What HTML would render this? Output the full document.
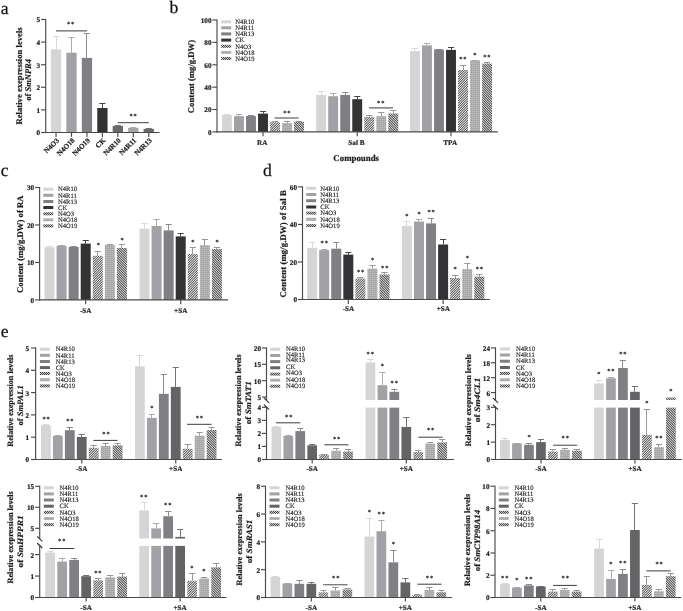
<!DOCTYPE html>
<html lang="en"><head><meta charset="utf-8"><title>Figure</title>
<style>html,body{margin:0;padding:0;background:#fff}svg{display:block;will-change:transform}text{font-family:"Liberation Serif",serif;stroke:#222;stroke-width:.2px;text-rendering:geometricPrecision}.lg{stroke-width:.13px}.pl{stroke-width:.25px}.st{stroke:#222;stroke-width:.15px}</style></head><body>
<svg width="683" height="611" viewBox="0 0 683 611">
<defs>
<pattern id="h3" width="12" height="12" patternUnits="userSpaceOnUse"><rect x="0" y="0" width="1" height="1" fill="#e4e4e4"/><rect x="1" y="0" width="1" height="1" fill="#656565"/><rect x="2" y="0" width="1" height="1" fill="#c2c2c2"/><rect x="3" y="0" width="1" height="1" fill="#a0a0a0"/><rect x="4" y="0" width="1" height="1" fill="#7e7e7e"/><rect x="5" y="0" width="1" height="1" fill="#dbdbdb"/><rect x="6" y="0" width="1" height="1" fill="#5c5c5c"/><rect x="7" y="0" width="1" height="1" fill="#dbdbdb"/><rect x="8" y="0" width="1" height="1" fill="#7e7e7e"/><rect x="9" y="0" width="1" height="1" fill="#a0a0a0"/><rect x="10" y="0" width="1" height="1" fill="#c2c2c2"/><rect x="11" y="0" width="1" height="1" fill="#656565"/><rect x="0" y="1" width="1" height="1" fill="#656565"/><rect x="1" y="1" width="1" height="1" fill="#c2c2c2"/><rect x="2" y="1" width="1" height="1" fill="#a0a0a0"/><rect x="3" y="1" width="1" height="1" fill="#7e7e7e"/><rect x="4" y="1" width="1" height="1" fill="#dbdbdb"/><rect x="5" y="1" width="1" height="1" fill="#5c5c5c"/><rect x="6" y="1" width="1" height="1" fill="#dbdbdb"/><rect x="7" y="1" width="1" height="1" fill="#7e7e7e"/><rect x="8" y="1" width="1" height="1" fill="#a0a0a0"/><rect x="9" y="1" width="1" height="1" fill="#c2c2c2"/><rect x="10" y="1" width="1" height="1" fill="#656565"/><rect x="11" y="1" width="1" height="1" fill="#e4e4e4"/><rect x="0" y="2" width="1" height="1" fill="#c2c2c2"/><rect x="1" y="2" width="1" height="1" fill="#a0a0a0"/><rect x="2" y="2" width="1" height="1" fill="#7e7e7e"/><rect x="3" y="2" width="1" height="1" fill="#dbdbdb"/><rect x="4" y="2" width="1" height="1" fill="#5c5c5c"/><rect x="5" y="2" width="1" height="1" fill="#dbdbdb"/><rect x="6" y="2" width="1" height="1" fill="#7e7e7e"/><rect x="7" y="2" width="1" height="1" fill="#a0a0a0"/><rect x="8" y="2" width="1" height="1" fill="#c2c2c2"/><rect x="9" y="2" width="1" height="1" fill="#656565"/><rect x="10" y="2" width="1" height="1" fill="#e4e4e4"/><rect x="11" y="2" width="1" height="1" fill="#656565"/><rect x="0" y="3" width="1" height="1" fill="#a0a0a0"/><rect x="1" y="3" width="1" height="1" fill="#7e7e7e"/><rect x="2" y="3" width="1" height="1" fill="#dbdbdb"/><rect x="3" y="3" width="1" height="1" fill="#5c5c5c"/><rect x="4" y="3" width="1" height="1" fill="#dbdbdb"/><rect x="5" y="3" width="1" height="1" fill="#7e7e7e"/><rect x="6" y="3" width="1" height="1" fill="#a0a0a0"/><rect x="7" y="3" width="1" height="1" fill="#c2c2c2"/><rect x="8" y="3" width="1" height="1" fill="#656565"/><rect x="9" y="3" width="1" height="1" fill="#e4e4e4"/><rect x="10" y="3" width="1" height="1" fill="#656565"/><rect x="11" y="3" width="1" height="1" fill="#c2c2c2"/><rect x="0" y="4" width="1" height="1" fill="#7e7e7e"/><rect x="1" y="4" width="1" height="1" fill="#dbdbdb"/><rect x="2" y="4" width="1" height="1" fill="#5c5c5c"/><rect x="3" y="4" width="1" height="1" fill="#dbdbdb"/><rect x="4" y="4" width="1" height="1" fill="#7e7e7e"/><rect x="5" y="4" width="1" height="1" fill="#a0a0a0"/><rect x="6" y="4" width="1" height="1" fill="#c2c2c2"/><rect x="7" y="4" width="1" height="1" fill="#656565"/><rect x="8" y="4" width="1" height="1" fill="#e4e4e4"/><rect x="9" y="4" width="1" height="1" fill="#656565"/><rect x="10" y="4" width="1" height="1" fill="#c2c2c2"/><rect x="11" y="4" width="1" height="1" fill="#a0a0a0"/><rect x="0" y="5" width="1" height="1" fill="#dbdbdb"/><rect x="1" y="5" width="1" height="1" fill="#5c5c5c"/><rect x="2" y="5" width="1" height="1" fill="#dbdbdb"/><rect x="3" y="5" width="1" height="1" fill="#7e7e7e"/><rect x="4" y="5" width="1" height="1" fill="#a0a0a0"/><rect x="5" y="5" width="1" height="1" fill="#c2c2c2"/><rect x="6" y="5" width="1" height="1" fill="#656565"/><rect x="7" y="5" width="1" height="1" fill="#e4e4e4"/><rect x="8" y="5" width="1" height="1" fill="#656565"/><rect x="9" y="5" width="1" height="1" fill="#c2c2c2"/><rect x="10" y="5" width="1" height="1" fill="#a0a0a0"/><rect x="11" y="5" width="1" height="1" fill="#7e7e7e"/><rect x="0" y="6" width="1" height="1" fill="#5c5c5c"/><rect x="1" y="6" width="1" height="1" fill="#dbdbdb"/><rect x="2" y="6" width="1" height="1" fill="#7e7e7e"/><rect x="3" y="6" width="1" height="1" fill="#a0a0a0"/><rect x="4" y="6" width="1" height="1" fill="#c2c2c2"/><rect x="5" y="6" width="1" height="1" fill="#656565"/><rect x="6" y="6" width="1" height="1" fill="#e4e4e4"/><rect x="7" y="6" width="1" height="1" fill="#656565"/><rect x="8" y="6" width="1" height="1" fill="#c2c2c2"/><rect x="9" y="6" width="1" height="1" fill="#a0a0a0"/><rect x="10" y="6" width="1" height="1" fill="#7e7e7e"/><rect x="11" y="6" width="1" height="1" fill="#dbdbdb"/><rect x="0" y="7" width="1" height="1" fill="#dbdbdb"/><rect x="1" y="7" width="1" height="1" fill="#7e7e7e"/><rect x="2" y="7" width="1" height="1" fill="#a0a0a0"/><rect x="3" y="7" width="1" height="1" fill="#c2c2c2"/><rect x="4" y="7" width="1" height="1" fill="#656565"/><rect x="5" y="7" width="1" height="1" fill="#e4e4e4"/><rect x="6" y="7" width="1" height="1" fill="#656565"/><rect x="7" y="7" width="1" height="1" fill="#c2c2c2"/><rect x="8" y="7" width="1" height="1" fill="#a0a0a0"/><rect x="9" y="7" width="1" height="1" fill="#7e7e7e"/><rect x="10" y="7" width="1" height="1" fill="#dbdbdb"/><rect x="11" y="7" width="1" height="1" fill="#5c5c5c"/><rect x="0" y="8" width="1" height="1" fill="#7e7e7e"/><rect x="1" y="8" width="1" height="1" fill="#a0a0a0"/><rect x="2" y="8" width="1" height="1" fill="#c2c2c2"/><rect x="3" y="8" width="1" height="1" fill="#656565"/><rect x="4" y="8" width="1" height="1" fill="#e4e4e4"/><rect x="5" y="8" width="1" height="1" fill="#656565"/><rect x="6" y="8" width="1" height="1" fill="#c2c2c2"/><rect x="7" y="8" width="1" height="1" fill="#a0a0a0"/><rect x="8" y="8" width="1" height="1" fill="#7e7e7e"/><rect x="9" y="8" width="1" height="1" fill="#dbdbdb"/><rect x="10" y="8" width="1" height="1" fill="#5c5c5c"/><rect x="11" y="8" width="1" height="1" fill="#dbdbdb"/><rect x="0" y="9" width="1" height="1" fill="#a0a0a0"/><rect x="1" y="9" width="1" height="1" fill="#c2c2c2"/><rect x="2" y="9" width="1" height="1" fill="#656565"/><rect x="3" y="9" width="1" height="1" fill="#e4e4e4"/><rect x="4" y="9" width="1" height="1" fill="#656565"/><rect x="5" y="9" width="1" height="1" fill="#c2c2c2"/><rect x="6" y="9" width="1" height="1" fill="#a0a0a0"/><rect x="7" y="9" width="1" height="1" fill="#7e7e7e"/><rect x="8" y="9" width="1" height="1" fill="#dbdbdb"/><rect x="9" y="9" width="1" height="1" fill="#5c5c5c"/><rect x="10" y="9" width="1" height="1" fill="#dbdbdb"/><rect x="11" y="9" width="1" height="1" fill="#7e7e7e"/><rect x="0" y="10" width="1" height="1" fill="#c2c2c2"/><rect x="1" y="10" width="1" height="1" fill="#656565"/><rect x="2" y="10" width="1" height="1" fill="#e4e4e4"/><rect x="3" y="10" width="1" height="1" fill="#656565"/><rect x="4" y="10" width="1" height="1" fill="#c2c2c2"/><rect x="5" y="10" width="1" height="1" fill="#a0a0a0"/><rect x="6" y="10" width="1" height="1" fill="#7e7e7e"/><rect x="7" y="10" width="1" height="1" fill="#dbdbdb"/><rect x="8" y="10" width="1" height="1" fill="#5c5c5c"/><rect x="9" y="10" width="1" height="1" fill="#dbdbdb"/><rect x="10" y="10" width="1" height="1" fill="#7e7e7e"/><rect x="11" y="10" width="1" height="1" fill="#a0a0a0"/><rect x="0" y="11" width="1" height="1" fill="#656565"/><rect x="1" y="11" width="1" height="1" fill="#e4e4e4"/><rect x="2" y="11" width="1" height="1" fill="#656565"/><rect x="3" y="11" width="1" height="1" fill="#c2c2c2"/><rect x="4" y="11" width="1" height="1" fill="#a0a0a0"/><rect x="5" y="11" width="1" height="1" fill="#7e7e7e"/><rect x="6" y="11" width="1" height="1" fill="#dbdbdb"/><rect x="7" y="11" width="1" height="1" fill="#5c5c5c"/><rect x="8" y="11" width="1" height="1" fill="#dbdbdb"/><rect x="9" y="11" width="1" height="1" fill="#7e7e7e"/><rect x="10" y="11" width="1" height="1" fill="#a0a0a0"/><rect x="11" y="11" width="1" height="1" fill="#c2c2c2"/></pattern>
<pattern id="h19" width="12" height="12" patternUnits="userSpaceOnUse"><rect x="0" y="0" width="1" height="1" fill="#d4d4d4"/><rect x="1" y="0" width="1" height="1" fill="#595959"/><rect x="2" y="0" width="1" height="1" fill="#b3b3b3"/><rect x="3" y="0" width="1" height="1" fill="#929292"/><rect x="4" y="0" width="1" height="1" fill="#717171"/><rect x="5" y="0" width="1" height="1" fill="#cbcbcb"/><rect x="6" y="0" width="1" height="1" fill="#505050"/><rect x="7" y="0" width="1" height="1" fill="#cbcbcb"/><rect x="8" y="0" width="1" height="1" fill="#717171"/><rect x="9" y="0" width="1" height="1" fill="#929292"/><rect x="10" y="0" width="1" height="1" fill="#b3b3b3"/><rect x="11" y="0" width="1" height="1" fill="#595959"/><rect x="0" y="1" width="1" height="1" fill="#595959"/><rect x="1" y="1" width="1" height="1" fill="#d4d4d4"/><rect x="2" y="1" width="1" height="1" fill="#595959"/><rect x="3" y="1" width="1" height="1" fill="#b3b3b3"/><rect x="4" y="1" width="1" height="1" fill="#929292"/><rect x="5" y="1" width="1" height="1" fill="#717171"/><rect x="6" y="1" width="1" height="1" fill="#cbcbcb"/><rect x="7" y="1" width="1" height="1" fill="#505050"/><rect x="8" y="1" width="1" height="1" fill="#cbcbcb"/><rect x="9" y="1" width="1" height="1" fill="#717171"/><rect x="10" y="1" width="1" height="1" fill="#929292"/><rect x="11" y="1" width="1" height="1" fill="#b3b3b3"/><rect x="0" y="2" width="1" height="1" fill="#b3b3b3"/><rect x="1" y="2" width="1" height="1" fill="#595959"/><rect x="2" y="2" width="1" height="1" fill="#d4d4d4"/><rect x="3" y="2" width="1" height="1" fill="#595959"/><rect x="4" y="2" width="1" height="1" fill="#b3b3b3"/><rect x="5" y="2" width="1" height="1" fill="#929292"/><rect x="6" y="2" width="1" height="1" fill="#717171"/><rect x="7" y="2" width="1" height="1" fill="#cbcbcb"/><rect x="8" y="2" width="1" height="1" fill="#505050"/><rect x="9" y="2" width="1" height="1" fill="#cbcbcb"/><rect x="10" y="2" width="1" height="1" fill="#717171"/><rect x="11" y="2" width="1" height="1" fill="#929292"/><rect x="0" y="3" width="1" height="1" fill="#929292"/><rect x="1" y="3" width="1" height="1" fill="#b3b3b3"/><rect x="2" y="3" width="1" height="1" fill="#595959"/><rect x="3" y="3" width="1" height="1" fill="#d4d4d4"/><rect x="4" y="3" width="1" height="1" fill="#595959"/><rect x="5" y="3" width="1" height="1" fill="#b3b3b3"/><rect x="6" y="3" width="1" height="1" fill="#929292"/><rect x="7" y="3" width="1" height="1" fill="#717171"/><rect x="8" y="3" width="1" height="1" fill="#cbcbcb"/><rect x="9" y="3" width="1" height="1" fill="#505050"/><rect x="10" y="3" width="1" height="1" fill="#cbcbcb"/><rect x="11" y="3" width="1" height="1" fill="#717171"/><rect x="0" y="4" width="1" height="1" fill="#717171"/><rect x="1" y="4" width="1" height="1" fill="#929292"/><rect x="2" y="4" width="1" height="1" fill="#b3b3b3"/><rect x="3" y="4" width="1" height="1" fill="#595959"/><rect x="4" y="4" width="1" height="1" fill="#d4d4d4"/><rect x="5" y="4" width="1" height="1" fill="#595959"/><rect x="6" y="4" width="1" height="1" fill="#b3b3b3"/><rect x="7" y="4" width="1" height="1" fill="#929292"/><rect x="8" y="4" width="1" height="1" fill="#717171"/><rect x="9" y="4" width="1" height="1" fill="#cbcbcb"/><rect x="10" y="4" width="1" height="1" fill="#505050"/><rect x="11" y="4" width="1" height="1" fill="#cbcbcb"/><rect x="0" y="5" width="1" height="1" fill="#cbcbcb"/><rect x="1" y="5" width="1" height="1" fill="#717171"/><rect x="2" y="5" width="1" height="1" fill="#929292"/><rect x="3" y="5" width="1" height="1" fill="#b3b3b3"/><rect x="4" y="5" width="1" height="1" fill="#595959"/><rect x="5" y="5" width="1" height="1" fill="#d4d4d4"/><rect x="6" y="5" width="1" height="1" fill="#595959"/><rect x="7" y="5" width="1" height="1" fill="#b3b3b3"/><rect x="8" y="5" width="1" height="1" fill="#929292"/><rect x="9" y="5" width="1" height="1" fill="#717171"/><rect x="10" y="5" width="1" height="1" fill="#cbcbcb"/><rect x="11" y="5" width="1" height="1" fill="#505050"/><rect x="0" y="6" width="1" height="1" fill="#505050"/><rect x="1" y="6" width="1" height="1" fill="#cbcbcb"/><rect x="2" y="6" width="1" height="1" fill="#717171"/><rect x="3" y="6" width="1" height="1" fill="#929292"/><rect x="4" y="6" width="1" height="1" fill="#b3b3b3"/><rect x="5" y="6" width="1" height="1" fill="#595959"/><rect x="6" y="6" width="1" height="1" fill="#d4d4d4"/><rect x="7" y="6" width="1" height="1" fill="#595959"/><rect x="8" y="6" width="1" height="1" fill="#b3b3b3"/><rect x="9" y="6" width="1" height="1" fill="#929292"/><rect x="10" y="6" width="1" height="1" fill="#717171"/><rect x="11" y="6" width="1" height="1" fill="#cbcbcb"/><rect x="0" y="7" width="1" height="1" fill="#cbcbcb"/><rect x="1" y="7" width="1" height="1" fill="#505050"/><rect x="2" y="7" width="1" height="1" fill="#cbcbcb"/><rect x="3" y="7" width="1" height="1" fill="#717171"/><rect x="4" y="7" width="1" height="1" fill="#929292"/><rect x="5" y="7" width="1" height="1" fill="#b3b3b3"/><rect x="6" y="7" width="1" height="1" fill="#595959"/><rect x="7" y="7" width="1" height="1" fill="#d4d4d4"/><rect x="8" y="7" width="1" height="1" fill="#595959"/><rect x="9" y="7" width="1" height="1" fill="#b3b3b3"/><rect x="10" y="7" width="1" height="1" fill="#929292"/><rect x="11" y="7" width="1" height="1" fill="#717171"/><rect x="0" y="8" width="1" height="1" fill="#717171"/><rect x="1" y="8" width="1" height="1" fill="#cbcbcb"/><rect x="2" y="8" width="1" height="1" fill="#505050"/><rect x="3" y="8" width="1" height="1" fill="#cbcbcb"/><rect x="4" y="8" width="1" height="1" fill="#717171"/><rect x="5" y="8" width="1" height="1" fill="#929292"/><rect x="6" y="8" width="1" height="1" fill="#b3b3b3"/><rect x="7" y="8" width="1" height="1" fill="#595959"/><rect x="8" y="8" width="1" height="1" fill="#d4d4d4"/><rect x="9" y="8" width="1" height="1" fill="#595959"/><rect x="10" y="8" width="1" height="1" fill="#b3b3b3"/><rect x="11" y="8" width="1" height="1" fill="#929292"/><rect x="0" y="9" width="1" height="1" fill="#929292"/><rect x="1" y="9" width="1" height="1" fill="#717171"/><rect x="2" y="9" width="1" height="1" fill="#cbcbcb"/><rect x="3" y="9" width="1" height="1" fill="#505050"/><rect x="4" y="9" width="1" height="1" fill="#cbcbcb"/><rect x="5" y="9" width="1" height="1" fill="#717171"/><rect x="6" y="9" width="1" height="1" fill="#929292"/><rect x="7" y="9" width="1" height="1" fill="#b3b3b3"/><rect x="8" y="9" width="1" height="1" fill="#595959"/><rect x="9" y="9" width="1" height="1" fill="#d4d4d4"/><rect x="10" y="9" width="1" height="1" fill="#595959"/><rect x="11" y="9" width="1" height="1" fill="#b3b3b3"/><rect x="0" y="10" width="1" height="1" fill="#b3b3b3"/><rect x="1" y="10" width="1" height="1" fill="#929292"/><rect x="2" y="10" width="1" height="1" fill="#717171"/><rect x="3" y="10" width="1" height="1" fill="#cbcbcb"/><rect x="4" y="10" width="1" height="1" fill="#505050"/><rect x="5" y="10" width="1" height="1" fill="#cbcbcb"/><rect x="6" y="10" width="1" height="1" fill="#717171"/><rect x="7" y="10" width="1" height="1" fill="#929292"/><rect x="8" y="10" width="1" height="1" fill="#b3b3b3"/><rect x="9" y="10" width="1" height="1" fill="#595959"/><rect x="10" y="10" width="1" height="1" fill="#d4d4d4"/><rect x="11" y="10" width="1" height="1" fill="#595959"/><rect x="0" y="11" width="1" height="1" fill="#595959"/><rect x="1" y="11" width="1" height="1" fill="#b3b3b3"/><rect x="2" y="11" width="1" height="1" fill="#929292"/><rect x="3" y="11" width="1" height="1" fill="#717171"/><rect x="4" y="11" width="1" height="1" fill="#cbcbcb"/><rect x="5" y="11" width="1" height="1" fill="#505050"/><rect x="6" y="11" width="1" height="1" fill="#cbcbcb"/><rect x="7" y="11" width="1" height="1" fill="#717171"/><rect x="8" y="11" width="1" height="1" fill="#929292"/><rect x="9" y="11" width="1" height="1" fill="#b3b3b3"/><rect x="10" y="11" width="1" height="1" fill="#595959"/><rect x="11" y="11" width="1" height="1" fill="#d4d4d4"/></pattern>
<pattern id="k3" width="2" height="2" patternUnits="userSpaceOnUse"><rect x="0" y="0" width="1" height="1" fill="#444444"/><rect x="1" y="0" width="1" height="1" fill="#c8c8c8"/><rect x="0" y="1" width="1" height="1" fill="#c8c8c8"/><rect x="1" y="1" width="1" height="1" fill="#444444"/></pattern>
<pattern id="h18" width="2" height="2" patternUnits="userSpaceOnUse"><rect x="0" y="0" width="1" height="1" fill="#a8a8a8"/><rect x="1" y="0" width="1" height="1" fill="#a8a8a8"/><rect x="0" y="1" width="1" height="1" fill="#bebebe"/><rect x="1" y="1" width="1" height="1" fill="#acacac"/></pattern>
</defs>
<rect width="683" height="611" fill="#fff"/>
<text x="0.8" y="13.6" text-anchor="start" font-size="17.6" fill="#111" class="pl">a</text>
<text x="169.4" y="13.2" text-anchor="start" font-size="17.6" fill="#111" class="pl">b</text>
<text x="0.8" y="176.2" text-anchor="start" font-size="17.6" fill="#111" class="pl">c</text>
<text x="263" y="176" text-anchor="start" font-size="17.6" fill="#111" class="pl">d</text>
<text x="0.8" y="337.4" text-anchor="start" font-size="17.6" fill="#111" class="pl">e</text>
<line x1="45.7" y1="18.93" x2="45.7" y2="133.07" stroke="#4a4a4a" stroke-width="1.15"/>
<line x1="41.1" y1="132.5" x2="45.7" y2="132.5" stroke="#4a4a4a" stroke-width="1.15"/>
<text x="40.2" y="135.4" text-anchor="end" font-size="7.2" font-weight="bold" fill="#1a1a1a">0</text>
<line x1="41.1" y1="109.9" x2="45.7" y2="109.9" stroke="#4a4a4a" stroke-width="1.15"/>
<text x="40.2" y="112.8" text-anchor="end" font-size="7.2" font-weight="bold" fill="#1a1a1a">1</text>
<line x1="41.1" y1="87.3" x2="45.7" y2="87.3" stroke="#4a4a4a" stroke-width="1.15"/>
<text x="40.2" y="90.2" text-anchor="end" font-size="7.2" font-weight="bold" fill="#1a1a1a">2</text>
<line x1="41.1" y1="64.7" x2="45.7" y2="64.7" stroke="#4a4a4a" stroke-width="1.15"/>
<text x="40.2" y="67.6" text-anchor="end" font-size="7.2" font-weight="bold" fill="#1a1a1a">3</text>
<line x1="41.1" y1="42.1" x2="45.7" y2="42.1" stroke="#4a4a4a" stroke-width="1.15"/>
<text x="40.2" y="45" text-anchor="end" font-size="7.2" font-weight="bold" fill="#1a1a1a">4</text>
<line x1="41.1" y1="19.5" x2="45.7" y2="19.5" stroke="#4a4a4a" stroke-width="1.15"/>
<text x="40.2" y="22.4" text-anchor="end" font-size="7.2" font-weight="bold" fill="#1a1a1a">5</text>
<text x="21.6" y="75.9" text-anchor="middle" font-size="8.65" font-weight="bold" fill="#1a1a1a" transform="rotate(-90 21.6 75.9)">Relative exepression levels</text>
<text x="31.4" y="79.9" text-anchor="middle" font-size="8.65" font-weight="bold" fill="#1a1a1a" transform="rotate(-90 31.4 79.9)" textLength="41.8" lengthAdjust="spacingAndGlyphs">of <tspan font-style="italic">SmNPR4</tspan></text>
<line x1="56.5" y1="36.5" x2="56.5" y2="49.3" stroke="#d5d5d5" stroke-width="0.9"/>
<line x1="52.95" y1="36.5" x2="59.15" y2="36.5" stroke="#d5d5d5" stroke-width="0.9"/>
<rect x="50.9" y="49.3" width="10.3" height="83.2" fill="#d5d5d5"/>
<line x1="71.5" y1="37.5" x2="71.5" y2="52.7" stroke="#a2a2a6" stroke-width="0.9"/>
<line x1="68.4" y1="37.5" x2="74.6" y2="37.5" stroke="#a2a2a6" stroke-width="0.9"/>
<rect x="66.35" y="52.7" width="10.3" height="79.8" fill="#a2a2a6"/>
<line x1="86.5" y1="33.5" x2="86.5" y2="57.9" stroke="#808084" stroke-width="0.9"/>
<line x1="83.85" y1="33.5" x2="90.05" y2="33.5" stroke="#808084" stroke-width="0.9"/>
<rect x="81.8" y="57.9" width="10.3" height="74.6" fill="#808084"/>
<line x1="102.5" y1="103.5" x2="102.5" y2="108" stroke="#333335" stroke-width="0.9"/>
<line x1="99.3" y1="103.5" x2="105.5" y2="103.5" stroke="#333335" stroke-width="0.9"/>
<rect x="97.25" y="108" width="10.3" height="24.5" fill="#333335"/>
<line x1="117.5" y1="125.5" x2="117.5" y2="126" stroke="#69696b" stroke-width="0.9"/>
<line x1="114.75" y1="125.5" x2="120.95" y2="125.5" stroke="#69696b" stroke-width="0.9"/>
<rect x="112.7" y="126" width="10.3" height="6.5" fill="#69696b"/>
<line x1="133.5" y1="127.5" x2="133.5" y2="127.9" stroke="#a6a6a8" stroke-width="0.9"/>
<line x1="130.2" y1="127.5" x2="136.4" y2="127.5" stroke="#a6a6a8" stroke-width="0.9"/>
<rect x="128.15" y="127.9" width="10.3" height="4.6" fill="#a6a6a8"/>
<line x1="148.5" y1="128.5" x2="148.5" y2="128.9" stroke="#69696b" stroke-width="0.9"/>
<line x1="145.65" y1="128.5" x2="151.85" y2="128.5" stroke="#69696b" stroke-width="0.9"/>
<rect x="143.6" y="128.9" width="10.3" height="3.6" fill="#69696b"/>
<line x1="45.2" y1="132.5" x2="159.7" y2="132.5" stroke="#4a4a4a" stroke-width="1.15"/>
<line x1="56.05" y1="132.5" x2="56.05" y2="136.9" stroke="#4a4a4a" stroke-width="1.15"/>
<text x="59.55" y="140.9" text-anchor="end" font-size="7.2" font-weight="bold" fill="#1a1a1a" transform="rotate(-45 59.55 140.9)">N4O3</text>
<line x1="71.5" y1="132.5" x2="71.5" y2="136.9" stroke="#4a4a4a" stroke-width="1.15"/>
<text x="75" y="140.9" text-anchor="end" font-size="7.2" font-weight="bold" fill="#1a1a1a" transform="rotate(-45 75 140.9)">N4O18</text>
<line x1="86.95" y1="132.5" x2="86.95" y2="136.9" stroke="#4a4a4a" stroke-width="1.15"/>
<text x="90.45" y="140.9" text-anchor="end" font-size="7.2" font-weight="bold" fill="#1a1a1a" transform="rotate(-45 90.45 140.9)">N4O19</text>
<line x1="102.4" y1="132.5" x2="102.4" y2="136.9" stroke="#4a4a4a" stroke-width="1.15"/>
<text x="105.9" y="140.9" text-anchor="end" font-size="7.2" font-weight="bold" fill="#1a1a1a" transform="rotate(-45 105.9 140.9)">CK</text>
<line x1="117.85" y1="132.5" x2="117.85" y2="136.9" stroke="#4a4a4a" stroke-width="1.15"/>
<text x="121.35" y="140.9" text-anchor="end" font-size="7.2" font-weight="bold" fill="#1a1a1a" transform="rotate(-45 121.35 140.9)">N4R10</text>
<line x1="133.3" y1="132.5" x2="133.3" y2="136.9" stroke="#4a4a4a" stroke-width="1.15"/>
<text x="136.8" y="140.9" text-anchor="end" font-size="7.2" font-weight="bold" fill="#1a1a1a" transform="rotate(-45 136.8 140.9)">N4R11</text>
<line x1="148.75" y1="132.5" x2="148.75" y2="136.9" stroke="#4a4a4a" stroke-width="1.15"/>
<text x="152.25" y="140.9" text-anchor="end" font-size="7.2" font-weight="bold" fill="#1a1a1a" transform="rotate(-45 152.25 140.9)">N4R13</text>
<line x1="56" y1="30.9" x2="87.2" y2="30.9" stroke="#3c3c3c" stroke-width="1"/>
<text x="71.05" y="26.31" text-anchor="middle" font-size="6.4" font-weight="bold" fill="#222" letter-spacing="0.95" class="st">**</text>
<line x1="117.6" y1="122.7" x2="148.8" y2="122.7" stroke="#3c3c3c" stroke-width="1"/>
<text x="133.55" y="118.31" text-anchor="middle" font-size="6.4" font-weight="bold" fill="#222" letter-spacing="0.95" class="st">**</text>
<line x1="217" y1="19.43" x2="217" y2="132.47" stroke="#4a4a4a" stroke-width="1.15"/>
<line x1="212.4" y1="131.9" x2="217" y2="131.9" stroke="#4a4a4a" stroke-width="1.15"/>
<text x="211.5" y="134.8" text-anchor="end" font-size="7.2" font-weight="bold" fill="#1a1a1a">0</text>
<line x1="212.4" y1="109.52" x2="217" y2="109.52" stroke="#4a4a4a" stroke-width="1.15"/>
<text x="211.5" y="112.42" text-anchor="end" font-size="7.2" font-weight="bold" fill="#1a1a1a">20</text>
<line x1="212.4" y1="87.14" x2="217" y2="87.14" stroke="#4a4a4a" stroke-width="1.15"/>
<text x="211.5" y="90.04" text-anchor="end" font-size="7.2" font-weight="bold" fill="#1a1a1a">40</text>
<line x1="212.4" y1="64.76" x2="217" y2="64.76" stroke="#4a4a4a" stroke-width="1.15"/>
<text x="211.5" y="67.66" text-anchor="end" font-size="7.2" font-weight="bold" fill="#1a1a1a">60</text>
<line x1="212.4" y1="42.38" x2="217" y2="42.38" stroke="#4a4a4a" stroke-width="1.15"/>
<text x="211.5" y="45.28" text-anchor="end" font-size="7.2" font-weight="bold" fill="#1a1a1a">80</text>
<line x1="212.4" y1="20" x2="217" y2="20" stroke="#4a4a4a" stroke-width="1.15"/>
<text x="211.5" y="22.9" text-anchor="end" font-size="7.2" font-weight="bold" fill="#1a1a1a">100</text>
<text x="194.4" y="76.5" text-anchor="middle" font-size="8.7" font-weight="bold" fill="#1a1a1a" transform="rotate(-90 194.4 76.5)">Content (mg/g.DW)</text>
<rect x="221.2" y="20.3" width="10" height="3" fill="#d5d5d5"/>
<text x="235.2" y="24" text-anchor="start" font-size="6.6" fill="#1a1a1a" class="lg">N4R10</text>
<rect x="221.2" y="26.3" width="10" height="3" fill="#a2a2a6"/>
<text x="235.2" y="30" text-anchor="start" font-size="6.6" fill="#1a1a1a" class="lg">N4R11</text>
<rect x="221.2" y="32.4" width="10" height="3" fill="#808084"/>
<text x="235.2" y="36.1" text-anchor="start" font-size="6.6" fill="#1a1a1a" class="lg">N4R13</text>
<rect x="221.2" y="38.6" width="10" height="3" fill="#333335"/>
<text x="235.2" y="42.3" text-anchor="start" font-size="6.6" fill="#1a1a1a" class="lg">CK</text>
<rect x="221.2" y="44.8" width="10" height="3" fill="url(#k3)"/>
<text x="235.2" y="48.5" text-anchor="start" font-size="6.6" fill="#1a1a1a" class="lg">N4O3</text>
<rect x="221.2" y="50.9" width="10" height="3" fill="url(#h18)"/>
<text x="235.2" y="54.6" text-anchor="start" font-size="6.6" fill="#1a1a1a" class="lg">N4O18</text>
<rect x="221.2" y="57" width="10" height="3" fill="url(#k3)"/>
<text x="235.2" y="60.7" text-anchor="start" font-size="6.6" fill="#1a1a1a" class="lg">N4O19</text>
<line x1="226.5" y1="114.5" x2="226.5" y2="115" stroke="#d5d5d5" stroke-width="0.9"/>
<line x1="223.85" y1="114.5" x2="230.05" y2="114.5" stroke="#d5d5d5" stroke-width="0.9"/>
<rect x="222" y="115" width="9.9" height="16.9" fill="#d5d5d5"/>
<line x1="238.5" y1="114.5" x2="238.5" y2="116.1" stroke="#a2a2a6" stroke-width="0.9"/>
<line x1="235.87" y1="114.5" x2="242.07" y2="114.5" stroke="#a2a2a6" stroke-width="0.9"/>
<rect x="234.02" y="116.1" width="9.9" height="15.8" fill="#a2a2a6"/>
<line x1="250.5" y1="115.5" x2="250.5" y2="116" stroke="#808084" stroke-width="0.9"/>
<line x1="247.89" y1="115.5" x2="254.09" y2="115.5" stroke="#808084" stroke-width="0.9"/>
<rect x="246.04" y="116" width="9.9" height="15.9" fill="#808084"/>
<line x1="263.5" y1="111.5" x2="263.5" y2="113.6" stroke="#333335" stroke-width="0.9"/>
<line x1="259.91" y1="111.5" x2="266.11" y2="111.5" stroke="#333335" stroke-width="0.9"/>
<rect x="258.06" y="113.6" width="9.9" height="18.3" fill="#333335"/>
<line x1="275.5" y1="121.5" x2="275.5" y2="122.2" stroke="#8c8c8c" stroke-width="0.9"/>
<line x1="271.93" y1="121.5" x2="278.13" y2="121.5" stroke="#8c8c8c" stroke-width="0.9"/>
<rect x="270.08" y="122.2" width="9.9" height="9.7" fill="url(#h3)"/>
<line x1="287.5" y1="121.5" x2="287.5" y2="123.1" stroke="#8c8c8c" stroke-width="0.9"/>
<line x1="283.95" y1="121.5" x2="290.15" y2="121.5" stroke="#8c8c8c" stroke-width="0.9"/>
<rect x="282.1" y="123.1" width="9.9" height="8.8" fill="url(#h18)"/>
<line x1="299.5" y1="121.5" x2="299.5" y2="121.9" stroke="#8c8c8c" stroke-width="0.9"/>
<line x1="295.97" y1="121.5" x2="302.17" y2="121.5" stroke="#8c8c8c" stroke-width="0.9"/>
<rect x="294.12" y="121.9" width="9.9" height="10" fill="url(#h19)"/>
<line x1="263.01" y1="131.9" x2="263.01" y2="136.3" stroke="#4a4a4a" stroke-width="1.15"/>
<text x="262.21" y="144.9" text-anchor="middle" font-size="7.2" font-weight="bold" fill="#1a1a1a">RA</text>
<line x1="321.5" y1="91.5" x2="321.5" y2="95" stroke="#d5d5d5" stroke-width="0.9"/>
<line x1="318.05" y1="91.5" x2="324.25" y2="91.5" stroke="#d5d5d5" stroke-width="0.9"/>
<rect x="316.2" y="95" width="9.9" height="36.9" fill="#d5d5d5"/>
<line x1="333.5" y1="93.5" x2="333.5" y2="96.2" stroke="#a2a2a6" stroke-width="0.9"/>
<line x1="330.07" y1="93.5" x2="336.27" y2="93.5" stroke="#a2a2a6" stroke-width="0.9"/>
<rect x="328.22" y="96.2" width="9.9" height="35.7" fill="#a2a2a6"/>
<line x1="345.5" y1="92.5" x2="345.5" y2="95" stroke="#808084" stroke-width="0.9"/>
<line x1="342.09" y1="92.5" x2="348.29" y2="92.5" stroke="#808084" stroke-width="0.9"/>
<rect x="340.24" y="95" width="9.9" height="36.9" fill="#808084"/>
<line x1="357.5" y1="96.5" x2="357.5" y2="99.2" stroke="#333335" stroke-width="0.9"/>
<line x1="354.11" y1="96.5" x2="360.31" y2="96.5" stroke="#333335" stroke-width="0.9"/>
<rect x="352.26" y="99.2" width="9.9" height="32.7" fill="#333335"/>
<line x1="369.5" y1="115.5" x2="369.5" y2="116.9" stroke="#8c8c8c" stroke-width="0.9"/>
<line x1="366.13" y1="115.5" x2="372.33" y2="115.5" stroke="#8c8c8c" stroke-width="0.9"/>
<rect x="364.28" y="116.9" width="9.9" height="15" fill="url(#h3)"/>
<line x1="381.5" y1="112.5" x2="381.5" y2="116.1" stroke="#8c8c8c" stroke-width="0.9"/>
<line x1="378.15" y1="112.5" x2="384.35" y2="112.5" stroke="#8c8c8c" stroke-width="0.9"/>
<rect x="376.3" y="116.1" width="9.9" height="15.8" fill="url(#h18)"/>
<line x1="393.5" y1="110.5" x2="393.5" y2="113.5" stroke="#8c8c8c" stroke-width="0.9"/>
<line x1="390.17" y1="110.5" x2="396.37" y2="110.5" stroke="#8c8c8c" stroke-width="0.9"/>
<rect x="388.32" y="113.5" width="9.9" height="18.4" fill="url(#h19)"/>
<line x1="357.21" y1="131.9" x2="357.21" y2="136.3" stroke="#4a4a4a" stroke-width="1.15"/>
<text x="356.41" y="144.9" text-anchor="middle" font-size="7.2" font-weight="bold" fill="#1a1a1a">Sal B</text>
<line x1="414.5" y1="48.5" x2="414.5" y2="51.1" stroke="#d5d5d5" stroke-width="0.9"/>
<line x1="411.85" y1="48.5" x2="418.05" y2="48.5" stroke="#d5d5d5" stroke-width="0.9"/>
<rect x="410" y="51.1" width="9.9" height="80.8" fill="#d5d5d5"/>
<line x1="426.5" y1="43.5" x2="426.5" y2="45.4" stroke="#a2a2a6" stroke-width="0.9"/>
<line x1="423.87" y1="43.5" x2="430.07" y2="43.5" stroke="#a2a2a6" stroke-width="0.9"/>
<rect x="422.02" y="45.4" width="9.9" height="86.5" fill="#a2a2a6"/>
<line x1="438.5" y1="49.5" x2="438.5" y2="49.5" stroke="#808084" stroke-width="0.9"/>
<line x1="435.89" y1="49.5" x2="442.09" y2="49.5" stroke="#808084" stroke-width="0.9"/>
<rect x="434.04" y="49.5" width="9.9" height="82.4" fill="#808084"/>
<line x1="451.5" y1="47.5" x2="451.5" y2="49.9" stroke="#333335" stroke-width="0.9"/>
<line x1="447.91" y1="47.5" x2="454.11" y2="47.5" stroke="#333335" stroke-width="0.9"/>
<rect x="446.06" y="49.9" width="9.9" height="82" fill="#333335"/>
<line x1="463.5" y1="65.5" x2="463.5" y2="70" stroke="#8c8c8c" stroke-width="0.9"/>
<line x1="459.93" y1="65.5" x2="466.13" y2="65.5" stroke="#8c8c8c" stroke-width="0.9"/>
<rect x="458.08" y="70" width="9.9" height="61.9" fill="url(#h3)"/>
<line x1="475.5" y1="60.5" x2="475.5" y2="60.5" stroke="#8c8c8c" stroke-width="0.9"/>
<line x1="471.95" y1="60.5" x2="478.15" y2="60.5" stroke="#8c8c8c" stroke-width="0.9"/>
<rect x="470.1" y="60.5" width="9.9" height="71.4" fill="url(#h18)"/>
<line x1="487.5" y1="62.5" x2="487.5" y2="63.6" stroke="#8c8c8c" stroke-width="0.9"/>
<line x1="483.97" y1="62.5" x2="490.17" y2="62.5" stroke="#8c8c8c" stroke-width="0.9"/>
<rect x="482.12" y="63.6" width="9.9" height="68.3" fill="url(#h19)"/>
<line x1="451.01" y1="131.9" x2="451.01" y2="136.3" stroke="#4a4a4a" stroke-width="1.15"/>
<text x="450.21" y="144.9" text-anchor="middle" font-size="7.2" font-weight="bold" fill="#1a1a1a">TPA</text>
<line x1="216.5" y1="131.9" x2="497.8" y2="131.9" stroke="#4a4a4a" stroke-width="1.15"/>
<text x="356.2" y="160.6" text-anchor="middle" font-size="8.85" font-weight="bold" fill="#1a1a1a">Compounds</text>
<line x1="274.7" y1="118" x2="298.5" y2="118" stroke="#3c3c3c" stroke-width="1"/>
<text x="287.35" y="114.61" text-anchor="middle" font-size="6.4" font-weight="bold" fill="#222" letter-spacing="0.95" class="st">**</text>
<line x1="369" y1="107.9" x2="393" y2="107.9" stroke="#666" stroke-width="1.3"/>
<text x="381.15" y="104.81" text-anchor="middle" font-size="6.4" font-weight="bold" fill="#222" letter-spacing="0.95" class="st">**</text>
<text x="463.35" y="61.41" text-anchor="middle" font-size="6.4" font-weight="bold" fill="#222" letter-spacing="0.95" class="st">**</text>
<text x="475.45" y="56.71" text-anchor="middle" font-size="6.4" font-weight="bold" fill="#222" letter-spacing="0.95" class="st">*</text>
<text x="487.35" y="59.01" text-anchor="middle" font-size="6.4" font-weight="bold" fill="#222" letter-spacing="0.95" class="st">**</text>
<line x1="39.6" y1="186.93" x2="39.6" y2="300.47" stroke="#4a4a4a" stroke-width="1.15"/>
<line x1="35" y1="299.9" x2="39.6" y2="299.9" stroke="#4a4a4a" stroke-width="1.15"/>
<text x="34.1" y="302.8" text-anchor="end" font-size="7.2" font-weight="bold" fill="#1a1a1a">0</text>
<line x1="35" y1="262.43" x2="39.6" y2="262.43" stroke="#4a4a4a" stroke-width="1.15"/>
<text x="34.1" y="265.33" text-anchor="end" font-size="7.2" font-weight="bold" fill="#1a1a1a">10</text>
<line x1="35" y1="224.97" x2="39.6" y2="224.97" stroke="#4a4a4a" stroke-width="1.15"/>
<text x="34.1" y="227.87" text-anchor="end" font-size="7.2" font-weight="bold" fill="#1a1a1a">20</text>
<line x1="35" y1="187.5" x2="39.6" y2="187.5" stroke="#4a4a4a" stroke-width="1.15"/>
<text x="34.1" y="190.4" text-anchor="end" font-size="7.2" font-weight="bold" fill="#1a1a1a">30</text>
<text x="22.7" y="244.2" text-anchor="middle" font-size="8.7" font-weight="bold" fill="#1a1a1a" transform="rotate(-90 22.7 244.2)">Content (mg/g.DW) of RA</text>
<rect x="43.3" y="187.7" width="10" height="3" fill="#d5d5d5"/>
<text x="58" y="191.4" text-anchor="start" font-size="6.6" fill="#1a1a1a" class="lg">N4R10</text>
<rect x="43.3" y="193.8" width="10" height="3" fill="#a2a2a6"/>
<text x="58" y="197.5" text-anchor="start" font-size="6.6" fill="#1a1a1a" class="lg">N4R11</text>
<rect x="43.3" y="200" width="10" height="3" fill="#808084"/>
<text x="58" y="203.7" text-anchor="start" font-size="6.6" fill="#1a1a1a" class="lg">N4R13</text>
<rect x="43.3" y="206" width="10" height="3" fill="#333335"/>
<text x="58" y="209.7" text-anchor="start" font-size="6.6" fill="#1a1a1a" class="lg">CK</text>
<rect x="43.3" y="212.3" width="10" height="3" fill="url(#k3)"/>
<text x="58" y="216" text-anchor="start" font-size="6.6" fill="#1a1a1a" class="lg">N4O3</text>
<rect x="43.3" y="218.3" width="10" height="3" fill="url(#h18)"/>
<text x="58" y="222" text-anchor="start" font-size="6.6" fill="#1a1a1a" class="lg">N4O18</text>
<rect x="43.3" y="224.4" width="10" height="3" fill="url(#k3)"/>
<text x="58" y="228.1" text-anchor="start" font-size="6.6" fill="#1a1a1a" class="lg">N4O19</text>
<line x1="49.5" y1="246.5" x2="49.5" y2="247.2" stroke="#d5d5d5" stroke-width="0.9"/>
<line x1="46.4" y1="246.5" x2="52.6" y2="246.5" stroke="#d5d5d5" stroke-width="0.9"/>
<rect x="44.5" y="247.2" width="10" height="52.7" fill="#d5d5d5"/>
<line x1="61.5" y1="245.5" x2="61.5" y2="245.8" stroke="#a2a2a6" stroke-width="0.9"/>
<line x1="58.47" y1="245.5" x2="64.67" y2="245.5" stroke="#a2a2a6" stroke-width="0.9"/>
<rect x="56.57" y="245.8" width="10" height="54.1" fill="#a2a2a6"/>
<line x1="73.5" y1="246.5" x2="73.5" y2="247" stroke="#808084" stroke-width="0.9"/>
<line x1="70.54" y1="246.5" x2="76.74" y2="246.5" stroke="#808084" stroke-width="0.9"/>
<rect x="68.64" y="247" width="10" height="52.9" fill="#808084"/>
<line x1="85.5" y1="240.5" x2="85.5" y2="243.6" stroke="#333335" stroke-width="0.9"/>
<line x1="82.61" y1="240.5" x2="88.81" y2="240.5" stroke="#333335" stroke-width="0.9"/>
<rect x="80.71" y="243.6" width="10" height="56.3" fill="#333335"/>
<line x1="97.5" y1="251.5" x2="97.5" y2="255.8" stroke="#8c8c8c" stroke-width="0.9"/>
<line x1="94.68" y1="251.5" x2="100.88" y2="251.5" stroke="#8c8c8c" stroke-width="0.9"/>
<rect x="92.78" y="255.8" width="10" height="44.1" fill="url(#h3)"/>
<line x1="109.5" y1="244.5" x2="109.5" y2="244.9" stroke="#8c8c8c" stroke-width="0.9"/>
<line x1="106.75" y1="244.5" x2="112.95" y2="244.5" stroke="#8c8c8c" stroke-width="0.9"/>
<rect x="104.85" y="244.9" width="10" height="55" fill="url(#h18)"/>
<line x1="121.5" y1="244.5" x2="121.5" y2="248" stroke="#8c8c8c" stroke-width="0.9"/>
<line x1="118.82" y1="244.5" x2="125.02" y2="244.5" stroke="#8c8c8c" stroke-width="0.9"/>
<rect x="116.92" y="248" width="10" height="51.9" fill="url(#h19)"/>
<line x1="85.71" y1="299.9" x2="85.71" y2="304.3" stroke="#4a4a4a" stroke-width="1.15"/>
<text x="85.71" y="312.5" text-anchor="middle" font-size="7.2" font-weight="bold" fill="#1a1a1a">-SA</text>
<line x1="144.5" y1="223.5" x2="144.5" y2="228.7" stroke="#d5d5d5" stroke-width="0.9"/>
<line x1="141.4" y1="223.5" x2="147.6" y2="223.5" stroke="#d5d5d5" stroke-width="0.9"/>
<rect x="139.5" y="228.7" width="10" height="71.2" fill="#d5d5d5"/>
<line x1="156.5" y1="219.5" x2="156.5" y2="226" stroke="#a2a2a6" stroke-width="0.9"/>
<line x1="153.47" y1="219.5" x2="159.67" y2="219.5" stroke="#a2a2a6" stroke-width="0.9"/>
<rect x="151.57" y="226" width="10" height="73.9" fill="#a2a2a6"/>
<line x1="168.5" y1="224.5" x2="168.5" y2="230.4" stroke="#808084" stroke-width="0.9"/>
<line x1="165.54" y1="224.5" x2="171.74" y2="224.5" stroke="#808084" stroke-width="0.9"/>
<rect x="163.64" y="230.4" width="10" height="69.5" fill="#808084"/>
<line x1="180.5" y1="233.5" x2="180.5" y2="236.4" stroke="#333335" stroke-width="0.9"/>
<line x1="177.61" y1="233.5" x2="183.81" y2="233.5" stroke="#333335" stroke-width="0.9"/>
<rect x="175.71" y="236.4" width="10" height="63.5" fill="#333335"/>
<line x1="192.5" y1="247.5" x2="192.5" y2="253.9" stroke="#8c8c8c" stroke-width="0.9"/>
<line x1="189.68" y1="247.5" x2="195.88" y2="247.5" stroke="#8c8c8c" stroke-width="0.9"/>
<rect x="187.78" y="253.9" width="10" height="46" fill="url(#h3)"/>
<line x1="204.5" y1="239.5" x2="204.5" y2="245.1" stroke="#8c8c8c" stroke-width="0.9"/>
<line x1="201.75" y1="239.5" x2="207.95" y2="239.5" stroke="#8c8c8c" stroke-width="0.9"/>
<rect x="199.85" y="245.1" width="10" height="54.8" fill="url(#h18)"/>
<line x1="216.5" y1="247.5" x2="216.5" y2="249.1" stroke="#8c8c8c" stroke-width="0.9"/>
<line x1="213.82" y1="247.5" x2="220.02" y2="247.5" stroke="#8c8c8c" stroke-width="0.9"/>
<rect x="211.92" y="249.1" width="10" height="50.8" fill="url(#h19)"/>
<line x1="180.71" y1="299.9" x2="180.71" y2="304.3" stroke="#4a4a4a" stroke-width="1.15"/>
<text x="180.71" y="312.5" text-anchor="middle" font-size="7.2" font-weight="bold" fill="#1a1a1a">+SA</text>
<line x1="39.1" y1="299.9" x2="228" y2="299.9" stroke="#4a4a4a" stroke-width="1.15"/>
<text x="98.75" y="247.41" text-anchor="middle" font-size="6.4" font-weight="bold" fill="#222" letter-spacing="0.95" class="st">*</text>
<text x="122.55" y="241.51" text-anchor="middle" font-size="6.4" font-weight="bold" fill="#222" letter-spacing="0.95" class="st">*</text>
<text x="193.45" y="244.41" text-anchor="middle" font-size="6.4" font-weight="bold" fill="#222" letter-spacing="0.95" class="st">*</text>
<text x="217.55" y="243.71" text-anchor="middle" font-size="6.4" font-weight="bold" fill="#222" letter-spacing="0.95" class="st">*</text>
<line x1="302.5" y1="186.33" x2="302.5" y2="300.07" stroke="#4a4a4a" stroke-width="1.15"/>
<line x1="297.9" y1="299.5" x2="302.5" y2="299.5" stroke="#4a4a4a" stroke-width="1.15"/>
<text x="297" y="302.4" text-anchor="end" font-size="7.2" font-weight="bold" fill="#1a1a1a">0</text>
<line x1="297.9" y1="261.97" x2="302.5" y2="261.97" stroke="#4a4a4a" stroke-width="1.15"/>
<text x="297" y="264.87" text-anchor="end" font-size="7.2" font-weight="bold" fill="#1a1a1a">20</text>
<line x1="297.9" y1="224.43" x2="302.5" y2="224.43" stroke="#4a4a4a" stroke-width="1.15"/>
<text x="297" y="227.33" text-anchor="end" font-size="7.2" font-weight="bold" fill="#1a1a1a">40</text>
<line x1="297.9" y1="186.9" x2="302.5" y2="186.9" stroke="#4a4a4a" stroke-width="1.15"/>
<text x="297" y="189.8" text-anchor="end" font-size="7.2" font-weight="bold" fill="#1a1a1a">60</text>
<text x="285.9" y="243.9" text-anchor="middle" font-size="8.7" font-weight="bold" fill="#1a1a1a" transform="rotate(-90 285.9 243.9)" textLength="107.3" lengthAdjust="spacing">Content (mg/g.DW) of Sal B</text>
<rect x="306.2" y="186.8" width="10" height="3" fill="#d5d5d5"/>
<text x="320.3" y="190.5" text-anchor="start" font-size="6.6" fill="#1a1a1a" class="lg">N4R10</text>
<rect x="306.2" y="193" width="10" height="3" fill="#a2a2a6"/>
<text x="320.3" y="196.7" text-anchor="start" font-size="6.6" fill="#1a1a1a" class="lg">N4R11</text>
<rect x="306.2" y="199.2" width="10" height="3" fill="#808084"/>
<text x="320.3" y="202.9" text-anchor="start" font-size="6.6" fill="#1a1a1a" class="lg">N4R13</text>
<rect x="306.2" y="205.5" width="10" height="3" fill="#333335"/>
<text x="320.3" y="209.2" text-anchor="start" font-size="6.6" fill="#1a1a1a" class="lg">CK</text>
<rect x="306.2" y="211.6" width="10" height="3" fill="url(#k3)"/>
<text x="320.3" y="215.3" text-anchor="start" font-size="6.6" fill="#1a1a1a" class="lg">N4O3</text>
<rect x="306.2" y="217.8" width="10" height="3" fill="url(#h18)"/>
<text x="320.3" y="221.5" text-anchor="start" font-size="6.6" fill="#1a1a1a" class="lg">N4O18</text>
<rect x="306.2" y="224.1" width="10" height="3" fill="url(#k3)"/>
<text x="320.3" y="227.8" text-anchor="start" font-size="6.6" fill="#1a1a1a" class="lg">N4O19</text>
<line x1="312.5" y1="242.5" x2="312.5" y2="247.8" stroke="#d5d5d5" stroke-width="0.9"/>
<line x1="309" y1="242.5" x2="315.2" y2="242.5" stroke="#d5d5d5" stroke-width="0.9"/>
<rect x="307.1" y="247.8" width="10" height="51.7" fill="#d5d5d5"/>
<line x1="324.5" y1="249.5" x2="324.5" y2="250.1" stroke="#a2a2a6" stroke-width="0.9"/>
<line x1="321.07" y1="249.5" x2="327.27" y2="249.5" stroke="#a2a2a6" stroke-width="0.9"/>
<rect x="319.17" y="250.1" width="10" height="49.4" fill="#a2a2a6"/>
<line x1="336.5" y1="242.5" x2="336.5" y2="248.7" stroke="#808084" stroke-width="0.9"/>
<line x1="333.14" y1="242.5" x2="339.34" y2="242.5" stroke="#808084" stroke-width="0.9"/>
<rect x="331.24" y="248.7" width="10" height="50.8" fill="#808084"/>
<line x1="348.5" y1="252.5" x2="348.5" y2="254.6" stroke="#333335" stroke-width="0.9"/>
<line x1="345.21" y1="252.5" x2="351.41" y2="252.5" stroke="#333335" stroke-width="0.9"/>
<rect x="343.31" y="254.6" width="10" height="44.9" fill="#333335"/>
<line x1="360.5" y1="277.5" x2="360.5" y2="278.5" stroke="#8c8c8c" stroke-width="0.9"/>
<line x1="357.28" y1="277.5" x2="363.48" y2="277.5" stroke="#8c8c8c" stroke-width="0.9"/>
<rect x="355.38" y="278.5" width="10" height="21" fill="url(#h3)"/>
<line x1="372.5" y1="265.5" x2="372.5" y2="268.6" stroke="#8c8c8c" stroke-width="0.9"/>
<line x1="369.35" y1="265.5" x2="375.55" y2="265.5" stroke="#8c8c8c" stroke-width="0.9"/>
<rect x="367.45" y="268.6" width="10" height="30.9" fill="url(#h18)"/>
<line x1="384.5" y1="272.5" x2="384.5" y2="274.5" stroke="#8c8c8c" stroke-width="0.9"/>
<line x1="381.42" y1="272.5" x2="387.62" y2="272.5" stroke="#8c8c8c" stroke-width="0.9"/>
<rect x="379.52" y="274.5" width="10" height="25" fill="url(#h19)"/>
<line x1="348.31" y1="299.5" x2="348.31" y2="303.9" stroke="#4a4a4a" stroke-width="1.15"/>
<text x="348.51" y="311.2" text-anchor="middle" font-size="7.2" font-weight="bold" fill="#1a1a1a">-SA</text>
<line x1="406.5" y1="221.5" x2="406.5" y2="225.8" stroke="#d5d5d5" stroke-width="0.9"/>
<line x1="403.8" y1="221.5" x2="410" y2="221.5" stroke="#d5d5d5" stroke-width="0.9"/>
<rect x="401.9" y="225.8" width="10" height="73.7" fill="#d5d5d5"/>
<line x1="418.5" y1="219.5" x2="418.5" y2="221.6" stroke="#a2a2a6" stroke-width="0.9"/>
<line x1="415.87" y1="219.5" x2="422.07" y2="219.5" stroke="#a2a2a6" stroke-width="0.9"/>
<rect x="413.97" y="221.6" width="10" height="77.9" fill="#a2a2a6"/>
<line x1="431.5" y1="218.5" x2="431.5" y2="223.4" stroke="#808084" stroke-width="0.9"/>
<line x1="427.94" y1="218.5" x2="434.14" y2="218.5" stroke="#808084" stroke-width="0.9"/>
<rect x="426.04" y="223.4" width="10" height="76.1" fill="#808084"/>
<line x1="443.5" y1="239.5" x2="443.5" y2="244.5" stroke="#333335" stroke-width="0.9"/>
<line x1="440.01" y1="239.5" x2="446.21" y2="239.5" stroke="#333335" stroke-width="0.9"/>
<rect x="438.11" y="244.5" width="10" height="55" fill="#333335"/>
<line x1="455.5" y1="275.5" x2="455.5" y2="278" stroke="#8c8c8c" stroke-width="0.9"/>
<line x1="452.08" y1="275.5" x2="458.28" y2="275.5" stroke="#8c8c8c" stroke-width="0.9"/>
<rect x="450.18" y="278" width="10" height="21.5" fill="url(#h3)"/>
<line x1="467.5" y1="263.5" x2="467.5" y2="269.1" stroke="#8c8c8c" stroke-width="0.9"/>
<line x1="464.15" y1="263.5" x2="470.35" y2="263.5" stroke="#8c8c8c" stroke-width="0.9"/>
<rect x="462.25" y="269.1" width="10" height="30.4" fill="url(#h18)"/>
<line x1="479.5" y1="274.5" x2="479.5" y2="276.6" stroke="#8c8c8c" stroke-width="0.9"/>
<line x1="476.22" y1="274.5" x2="482.42" y2="274.5" stroke="#8c8c8c" stroke-width="0.9"/>
<rect x="474.32" y="276.6" width="10" height="22.9" fill="url(#h19)"/>
<line x1="443.11" y1="299.5" x2="443.11" y2="303.9" stroke="#4a4a4a" stroke-width="1.15"/>
<text x="443.31" y="311.2" text-anchor="middle" font-size="7.2" font-weight="bold" fill="#1a1a1a">+SA</text>
<line x1="302" y1="299.5" x2="489.9" y2="299.5" stroke="#4a4a4a" stroke-width="1.15"/>
<text x="324.75" y="245.41" text-anchor="middle" font-size="6.4" font-weight="bold" fill="#222" letter-spacing="0.95" class="st">**</text>
<text x="361.05" y="274.01" text-anchor="middle" font-size="6.4" font-weight="bold" fill="#222" letter-spacing="0.95" class="st">**</text>
<text x="373.15" y="261.61" text-anchor="middle" font-size="6.4" font-weight="bold" fill="#222" letter-spacing="0.95" class="st">*</text>
<text x="385.25" y="269.81" text-anchor="middle" font-size="6.4" font-weight="bold" fill="#222" letter-spacing="0.95" class="st">**</text>
<text x="407.45" y="218.21" text-anchor="middle" font-size="6.4" font-weight="bold" fill="#222" letter-spacing="0.95" class="st">*</text>
<text x="419.55" y="215.91" text-anchor="middle" font-size="6.4" font-weight="bold" fill="#222" letter-spacing="0.95" class="st">*</text>
<text x="431.55" y="214.01" text-anchor="middle" font-size="6.4" font-weight="bold" fill="#222" letter-spacing="0.95" class="st">**</text>
<text x="455.65" y="271.41" text-anchor="middle" font-size="6.4" font-weight="bold" fill="#222" letter-spacing="0.95" class="st">*</text>
<text x="467.75" y="259.91" text-anchor="middle" font-size="6.4" font-weight="bold" fill="#222" letter-spacing="0.95" class="st">*</text>
<text x="479.85" y="270.91" text-anchor="middle" font-size="6.4" font-weight="bold" fill="#222" letter-spacing="0.95" class="st">**</text>
<line x1="35.65" y1="347.43" x2="35.65" y2="460.07" stroke="#4a4a4a" stroke-width="1.15"/>
<line x1="31.05" y1="459.5" x2="35.65" y2="459.5" stroke="#4a4a4a" stroke-width="1.15"/>
<text x="29.15" y="462.4" text-anchor="end" font-size="7.2" font-weight="bold" fill="#1a1a1a">0</text>
<line x1="31.05" y1="437.2" x2="35.65" y2="437.2" stroke="#4a4a4a" stroke-width="1.15"/>
<text x="29.15" y="440.1" text-anchor="end" font-size="7.2" font-weight="bold" fill="#1a1a1a">1</text>
<line x1="31.05" y1="414.9" x2="35.65" y2="414.9" stroke="#4a4a4a" stroke-width="1.15"/>
<text x="29.15" y="417.8" text-anchor="end" font-size="7.2" font-weight="bold" fill="#1a1a1a">2</text>
<line x1="31.05" y1="392.6" x2="35.65" y2="392.6" stroke="#4a4a4a" stroke-width="1.15"/>
<text x="29.15" y="395.5" text-anchor="end" font-size="7.2" font-weight="bold" fill="#1a1a1a">3</text>
<line x1="31.05" y1="370.3" x2="35.65" y2="370.3" stroke="#4a4a4a" stroke-width="1.15"/>
<text x="29.15" y="373.2" text-anchor="end" font-size="7.2" font-weight="bold" fill="#1a1a1a">4</text>
<line x1="31.05" y1="348" x2="35.65" y2="348" stroke="#4a4a4a" stroke-width="1.15"/>
<text x="29.15" y="350.9" text-anchor="end" font-size="7.2" font-weight="bold" fill="#1a1a1a">5</text>
<text x="13.25" y="400.6" text-anchor="middle" font-size="8.2" font-weight="bold" fill="#1a1a1a" transform="rotate(-90 13.25 400.6)">Relative exepression levels</text>
<text x="22.8" y="405.4" text-anchor="middle" font-size="8.2" font-weight="bold" fill="#1a1a1a" transform="rotate(-90 22.8 405.4)" textLength="40.2" lengthAdjust="spacingAndGlyphs">of <tspan font-style="italic">SmPAL1</tspan></text>
<rect x="39.9" y="347.7" width="10" height="3" fill="#d5d5d5"/>
<text x="55.7" y="351.4" text-anchor="start" font-size="6.6" fill="#1a1a1a" class="lg">N4R10</text>
<rect x="39.9" y="353.8" width="10" height="3" fill="#a2a2a6"/>
<text x="55.7" y="357.5" text-anchor="start" font-size="6.6" fill="#1a1a1a" class="lg">N4R11</text>
<rect x="39.9" y="360" width="10" height="3" fill="#808084"/>
<text x="55.7" y="363.7" text-anchor="start" font-size="6.6" fill="#1a1a1a" class="lg">N4R13</text>
<rect x="39.9" y="366.1" width="10" height="3" fill="#646466"/>
<text x="55.7" y="369.8" text-anchor="start" font-size="6.6" fill="#1a1a1a" class="lg">CK</text>
<rect x="39.9" y="372" width="10" height="3" fill="url(#k3)"/>
<text x="55.7" y="375.7" text-anchor="start" font-size="6.6" fill="#1a1a1a" class="lg">N4O3</text>
<rect x="39.9" y="378.2" width="10" height="3" fill="url(#h18)"/>
<text x="55.7" y="381.9" text-anchor="start" font-size="6.6" fill="#1a1a1a" class="lg">N4O18</text>
<rect x="39.9" y="384.4" width="10" height="3" fill="url(#k3)"/>
<text x="55.7" y="388.1" text-anchor="start" font-size="6.6" fill="#1a1a1a" class="lg">N4O19</text>
<line x1="45.5" y1="424.5" x2="45.5" y2="425.1" stroke="#d5d5d5" stroke-width="0.9"/>
<line x1="42.8" y1="424.5" x2="49" y2="424.5" stroke="#d5d5d5" stroke-width="0.9"/>
<rect x="41" y="425.1" width="9.8" height="34.4" fill="#d5d5d5"/>
<line x1="57.5" y1="435.5" x2="57.5" y2="436" stroke="#a2a2a6" stroke-width="0.9"/>
<line x1="54.75" y1="435.5" x2="60.95" y2="435.5" stroke="#a2a2a6" stroke-width="0.9"/>
<rect x="52.95" y="436" width="9.8" height="23.5" fill="#a2a2a6"/>
<line x1="69.5" y1="427.5" x2="69.5" y2="430.2" stroke="#808084" stroke-width="0.9"/>
<line x1="66.7" y1="427.5" x2="72.9" y2="427.5" stroke="#808084" stroke-width="0.9"/>
<rect x="64.9" y="430.2" width="9.8" height="29.3" fill="#808084"/>
<line x1="81.5" y1="434.5" x2="81.5" y2="436.9" stroke="#646466" stroke-width="0.9"/>
<line x1="78.65" y1="434.5" x2="84.85" y2="434.5" stroke="#646466" stroke-width="0.9"/>
<rect x="76.85" y="436.9" width="9.8" height="22.6" fill="#646466"/>
<line x1="93.5" y1="445.5" x2="93.5" y2="447.8" stroke="#8c8c8c" stroke-width="0.9"/>
<line x1="90.6" y1="445.5" x2="96.8" y2="445.5" stroke="#8c8c8c" stroke-width="0.9"/>
<rect x="88.8" y="447.8" width="9.8" height="11.7" fill="url(#h3)"/>
<line x1="105.5" y1="443.5" x2="105.5" y2="446" stroke="#8c8c8c" stroke-width="0.9"/>
<line x1="102.55" y1="443.5" x2="108.75" y2="443.5" stroke="#8c8c8c" stroke-width="0.9"/>
<rect x="100.75" y="446" width="9.8" height="13.5" fill="url(#h18)"/>
<line x1="117.5" y1="443.5" x2="117.5" y2="445.3" stroke="#8c8c8c" stroke-width="0.9"/>
<line x1="114.5" y1="443.5" x2="120.7" y2="443.5" stroke="#8c8c8c" stroke-width="0.9"/>
<rect x="112.7" y="445.3" width="9.8" height="14.2" fill="url(#h19)"/>
<line x1="81.75" y1="459.5" x2="81.75" y2="463.5" stroke="#4a4a4a" stroke-width="1.15"/>
<text x="81.75" y="471.1" text-anchor="middle" font-size="7.2" font-weight="bold" fill="#1a1a1a">-SA</text>
<line x1="139.5" y1="355.5" x2="139.5" y2="366.3" stroke="#d5d5d5" stroke-width="0.9"/>
<line x1="136.8" y1="355.5" x2="143" y2="355.5" stroke="#d5d5d5" stroke-width="0.9"/>
<rect x="135" y="366.3" width="9.8" height="93.2" fill="#d5d5d5"/>
<line x1="151.5" y1="414.5" x2="151.5" y2="417.9" stroke="#a2a2a6" stroke-width="0.9"/>
<line x1="148.75" y1="414.5" x2="154.95" y2="414.5" stroke="#a2a2a6" stroke-width="0.9"/>
<rect x="146.95" y="417.9" width="9.8" height="41.6" fill="#a2a2a6"/>
<line x1="163.5" y1="374.5" x2="163.5" y2="393.8" stroke="#808084" stroke-width="0.9"/>
<line x1="160.7" y1="374.5" x2="166.9" y2="374.5" stroke="#808084" stroke-width="0.9"/>
<rect x="158.9" y="393.8" width="9.8" height="65.7" fill="#808084"/>
<line x1="175.5" y1="367.5" x2="175.5" y2="386.9" stroke="#646466" stroke-width="0.9"/>
<line x1="172.65" y1="367.5" x2="178.85" y2="367.5" stroke="#646466" stroke-width="0.9"/>
<rect x="170.85" y="386.9" width="9.8" height="72.6" fill="#646466"/>
<line x1="187.5" y1="444.5" x2="187.5" y2="448.8" stroke="#8c8c8c" stroke-width="0.9"/>
<line x1="184.6" y1="444.5" x2="190.8" y2="444.5" stroke="#8c8c8c" stroke-width="0.9"/>
<rect x="182.8" y="448.8" width="9.8" height="10.7" fill="url(#h3)"/>
<line x1="199.5" y1="432.5" x2="199.5" y2="435.7" stroke="#8c8c8c" stroke-width="0.9"/>
<line x1="196.55" y1="432.5" x2="202.75" y2="432.5" stroke="#8c8c8c" stroke-width="0.9"/>
<rect x="194.75" y="435.7" width="9.8" height="23.8" fill="url(#h18)"/>
<line x1="211.5" y1="427.5" x2="211.5" y2="430" stroke="#8c8c8c" stroke-width="0.9"/>
<line x1="208.5" y1="427.5" x2="214.7" y2="427.5" stroke="#8c8c8c" stroke-width="0.9"/>
<rect x="206.7" y="430" width="9.8" height="29.5" fill="url(#h19)"/>
<line x1="175.75" y1="459.5" x2="175.75" y2="463.5" stroke="#4a4a4a" stroke-width="1.15"/>
<text x="175.75" y="471.1" text-anchor="middle" font-size="7.2" font-weight="bold" fill="#1a1a1a">+SA</text>
<line x1="35.15" y1="459.5" x2="221.9" y2="459.5" stroke="#4a4a4a" stroke-width="1.15"/>
<text x="46.55" y="421.11" text-anchor="middle" font-size="6.4" font-weight="bold" fill="#222" letter-spacing="0.95" class="st">**</text>
<text x="70.35" y="423.21" text-anchor="middle" font-size="6.4" font-weight="bold" fill="#222" letter-spacing="0.95" class="st">**</text>
<text x="152.25" y="410.11" text-anchor="middle" font-size="6.4" font-weight="bold" fill="#222" letter-spacing="0.95" class="st">*</text>
<line x1="93.4" y1="440.4" x2="117.5" y2="440.4" stroke="#3c3c3c" stroke-width="1"/>
<text x="106.45" y="435.51" text-anchor="middle" font-size="6.4" font-weight="bold" fill="#222" letter-spacing="0.95" class="st">**</text>
<line x1="187.1" y1="424.3" x2="211.6" y2="424.3" stroke="#3c3c3c" stroke-width="1"/>
<text x="199.85" y="419.71" text-anchor="middle" font-size="6.4" font-weight="bold" fill="#222" letter-spacing="0.95" class="st">**</text>
<line x1="266.5" y1="347.43" x2="266.5" y2="400.57" stroke="#4a4a4a" stroke-width="1.15"/>
<line x1="266.5" y1="406.73" x2="266.5" y2="460.07" stroke="#4a4a4a" stroke-width="1.15"/>
<line x1="261.9" y1="459.5" x2="266.5" y2="459.5" stroke="#4a4a4a" stroke-width="1.15"/>
<text x="261" y="462.4" text-anchor="end" font-size="7.2" font-weight="bold" fill="#1a1a1a">0</text>
<line x1="261.9" y1="446.45" x2="266.5" y2="446.45" stroke="#4a4a4a" stroke-width="1.15"/>
<text x="261" y="449.35" text-anchor="end" font-size="7.2" font-weight="bold" fill="#1a1a1a">1</text>
<line x1="261.9" y1="433.4" x2="266.5" y2="433.4" stroke="#4a4a4a" stroke-width="1.15"/>
<text x="261" y="436.3" text-anchor="end" font-size="7.2" font-weight="bold" fill="#1a1a1a">2</text>
<line x1="261.9" y1="420.35" x2="266.5" y2="420.35" stroke="#4a4a4a" stroke-width="1.15"/>
<text x="261" y="423.25" text-anchor="end" font-size="7.2" font-weight="bold" fill="#1a1a1a">3</text>
<line x1="261.9" y1="407.3" x2="266.5" y2="407.3" stroke="#4a4a4a" stroke-width="1.15"/>
<text x="261" y="410.2" text-anchor="end" font-size="7.2" font-weight="bold" fill="#1a1a1a">4</text>
<line x1="261.9" y1="397" x2="266.5" y2="397" stroke="#4a4a4a" stroke-width="1.15"/>
<text x="261" y="399.9" text-anchor="end" font-size="7.2" font-weight="bold" fill="#1a1a1a">5</text>
<line x1="261.9" y1="380.67" x2="266.5" y2="380.67" stroke="#4a4a4a" stroke-width="1.15"/>
<text x="261" y="383.57" text-anchor="end" font-size="7.2" font-weight="bold" fill="#1a1a1a">10</text>
<line x1="261.9" y1="364.33" x2="266.5" y2="364.33" stroke="#4a4a4a" stroke-width="1.15"/>
<text x="261" y="367.23" text-anchor="end" font-size="7.2" font-weight="bold" fill="#1a1a1a">15</text>
<line x1="261.9" y1="348" x2="266.5" y2="348" stroke="#4a4a4a" stroke-width="1.15"/>
<text x="261" y="350.9" text-anchor="end" font-size="7.2" font-weight="bold" fill="#1a1a1a">20</text>
<text x="241.2" y="400.5" text-anchor="middle" font-size="8.2" font-weight="bold" fill="#1a1a1a" transform="rotate(-90 241.2 400.5)">Relative exepression levels</text>
<text x="250.8" y="402.7" text-anchor="middle" font-size="8.2" font-weight="bold" fill="#1a1a1a" transform="rotate(-90 250.8 402.7)" textLength="43" lengthAdjust="spacingAndGlyphs">of <tspan font-style="italic">SmTAT1</tspan></text>
<rect x="270.2" y="347.7" width="10" height="3" fill="#d5d5d5"/>
<text x="286" y="351.4" text-anchor="start" font-size="6.6" fill="#1a1a1a" class="lg">N4R10</text>
<rect x="270.2" y="354" width="10" height="3" fill="#a2a2a6"/>
<text x="286" y="357.3" text-anchor="start" font-size="6.6" fill="#1a1a1a" class="lg">N4R11</text>
<rect x="270.2" y="360.1" width="10" height="3" fill="#808084"/>
<text x="286" y="362.4" text-anchor="start" font-size="6.6" fill="#1a1a1a" class="lg">N4R13</text>
<rect x="270.2" y="366.3" width="10" height="3" fill="#646466"/>
<text x="286" y="369" text-anchor="start" font-size="6.6" fill="#1a1a1a" class="lg">CK</text>
<rect x="270.2" y="372.6" width="10" height="3" fill="url(#k3)"/>
<text x="286" y="375.3" text-anchor="start" font-size="6.6" fill="#1a1a1a" class="lg">N4O3</text>
<rect x="270.2" y="378.7" width="10" height="3" fill="url(#h18)"/>
<text x="286" y="381.7" text-anchor="start" font-size="6.6" fill="#1a1a1a" class="lg">N4O18</text>
<rect x="270.2" y="384.7" width="10" height="3" fill="url(#k3)"/>
<text x="286" y="388" text-anchor="start" font-size="6.6" fill="#1a1a1a" class="lg">N4O19</text>
<line x1="276.5" y1="426.5" x2="276.5" y2="426.9" stroke="#d5d5d5" stroke-width="0.9"/>
<line x1="273.25" y1="426.5" x2="279.45" y2="426.5" stroke="#d5d5d5" stroke-width="0.9"/>
<rect x="271.5" y="426.9" width="9.7" height="32.6" fill="#d5d5d5"/>
<line x1="288.5" y1="435.5" x2="288.5" y2="436" stroke="#a2a2a6" stroke-width="0.9"/>
<line x1="285.2" y1="435.5" x2="291.4" y2="435.5" stroke="#a2a2a6" stroke-width="0.9"/>
<rect x="283.45" y="436" width="9.7" height="23.5" fill="#a2a2a6"/>
<line x1="300.5" y1="428.5" x2="300.5" y2="431.1" stroke="#808084" stroke-width="0.9"/>
<line x1="297.15" y1="428.5" x2="303.35" y2="428.5" stroke="#808084" stroke-width="0.9"/>
<rect x="295.4" y="431.1" width="9.7" height="28.4" fill="#808084"/>
<line x1="312.5" y1="444.5" x2="312.5" y2="445.3" stroke="#646466" stroke-width="0.9"/>
<line x1="309.1" y1="444.5" x2="315.3" y2="444.5" stroke="#646466" stroke-width="0.9"/>
<rect x="307.35" y="445.3" width="9.7" height="14.2" fill="#646466"/>
<line x1="324.5" y1="454.5" x2="324.5" y2="454.7" stroke="#8c8c8c" stroke-width="0.9"/>
<line x1="321.05" y1="454.5" x2="327.25" y2="454.5" stroke="#8c8c8c" stroke-width="0.9"/>
<rect x="319.3" y="454.7" width="9.7" height="4.8" fill="url(#h3)"/>
<line x1="336.5" y1="448.5" x2="336.5" y2="450.7" stroke="#8c8c8c" stroke-width="0.9"/>
<line x1="333" y1="448.5" x2="339.2" y2="448.5" stroke="#8c8c8c" stroke-width="0.9"/>
<rect x="331.25" y="450.7" width="9.7" height="8.8" fill="url(#h18)"/>
<line x1="348.5" y1="449.5" x2="348.5" y2="451.5" stroke="#8c8c8c" stroke-width="0.9"/>
<line x1="344.95" y1="449.5" x2="351.15" y2="449.5" stroke="#8c8c8c" stroke-width="0.9"/>
<rect x="343.2" y="451.5" width="9.7" height="8" fill="url(#h19)"/>
<line x1="312.2" y1="459.5" x2="312.2" y2="463.5" stroke="#4a4a4a" stroke-width="1.15"/>
<text x="312.2" y="471.1" text-anchor="middle" font-size="7.2" font-weight="bold" fill="#1a1a1a">-SA</text>
<line x1="370.5" y1="359.5" x2="370.5" y2="362.4" stroke="#d5d5d5" stroke-width="0.9"/>
<line x1="367.35" y1="359.5" x2="373.55" y2="359.5" stroke="#d5d5d5" stroke-width="0.9"/>
<rect x="365.6" y="407.6" width="9.7" height="51.9" fill="#d5d5d5"/>
<rect x="365.6" y="362.4" width="9.7" height="37.6" fill="#d5d5d5"/>
<line x1="382.5" y1="372.5" x2="382.5" y2="385.2" stroke="#a2a2a6" stroke-width="0.9"/>
<line x1="379.3" y1="372.5" x2="385.5" y2="372.5" stroke="#a2a2a6" stroke-width="0.9"/>
<rect x="377.55" y="407.6" width="9.7" height="51.9" fill="#a2a2a6"/>
<rect x="377.55" y="385.2" width="9.7" height="14.8" fill="#a2a2a6"/>
<line x1="394.5" y1="389.5" x2="394.5" y2="391.8" stroke="#808084" stroke-width="0.9"/>
<line x1="391.25" y1="389.5" x2="397.45" y2="389.5" stroke="#808084" stroke-width="0.9"/>
<rect x="389.5" y="407.6" width="9.7" height="51.9" fill="#808084"/>
<rect x="389.5" y="391.8" width="9.7" height="8.2" fill="#808084"/>
<line x1="406.5" y1="417.5" x2="406.5" y2="426.9" stroke="#646466" stroke-width="0.9"/>
<line x1="403.2" y1="417.5" x2="409.4" y2="417.5" stroke="#646466" stroke-width="0.9"/>
<rect x="401.45" y="426.9" width="9.7" height="32.6" fill="#646466"/>
<line x1="418.5" y1="450.5" x2="418.5" y2="452" stroke="#8c8c8c" stroke-width="0.9"/>
<line x1="415.15" y1="450.5" x2="421.35" y2="450.5" stroke="#8c8c8c" stroke-width="0.9"/>
<rect x="413.4" y="452" width="9.7" height="7.5" fill="url(#h3)"/>
<line x1="430.5" y1="442.5" x2="430.5" y2="443.6" stroke="#8c8c8c" stroke-width="0.9"/>
<line x1="427.1" y1="442.5" x2="433.3" y2="442.5" stroke="#8c8c8c" stroke-width="0.9"/>
<rect x="425.35" y="443.6" width="9.7" height="15.9" fill="url(#h18)"/>
<line x1="442.5" y1="439.5" x2="442.5" y2="442.4" stroke="#8c8c8c" stroke-width="0.9"/>
<line x1="439.05" y1="439.5" x2="445.25" y2="439.5" stroke="#8c8c8c" stroke-width="0.9"/>
<rect x="437.3" y="442.4" width="9.7" height="17.1" fill="url(#h19)"/>
<line x1="406.3" y1="459.5" x2="406.3" y2="463.5" stroke="#4a4a4a" stroke-width="1.15"/>
<text x="406.3" y="471.1" text-anchor="middle" font-size="7.2" font-weight="bold" fill="#1a1a1a">+SA</text>
<line x1="266" y1="459.5" x2="454" y2="459.5" stroke="#4a4a4a" stroke-width="1.15"/>
<line x1="263.9" y1="397.8" x2="269.1" y2="402.8" stroke="#333" stroke-width="1.15"/>
<line x1="263.9" y1="404.6" x2="269.1" y2="409.6" stroke="#333" stroke-width="1.15"/>
<text x="370.75" y="355.81" text-anchor="middle" font-size="6.4" font-weight="bold" fill="#222" letter-spacing="0.95" class="st">**</text>
<text x="382.75" y="368.11" text-anchor="middle" font-size="6.4" font-weight="bold" fill="#222" letter-spacing="0.95" class="st">*</text>
<text x="394.65" y="385.01" text-anchor="middle" font-size="6.4" font-weight="bold" fill="#222" letter-spacing="0.95" class="st">**</text>
<line x1="276" y1="422.8" x2="300.3" y2="422.8" stroke="#3c3c3c" stroke-width="1"/>
<text x="289.15" y="418.91" text-anchor="middle" font-size="6.4" font-weight="bold" fill="#222" letter-spacing="0.95" class="st">**</text>
<line x1="324.4" y1="444.8" x2="348.5" y2="444.8" stroke="#3c3c3c" stroke-width="1"/>
<text x="337.05" y="440.51" text-anchor="middle" font-size="6.4" font-weight="bold" fill="#222" letter-spacing="0.95" class="st">**</text>
<line x1="418.4" y1="437.2" x2="442.5" y2="437.2" stroke="#3c3c3c" stroke-width="1"/>
<text x="431.05" y="432.41" text-anchor="middle" font-size="6.4" font-weight="bold" fill="#222" letter-spacing="0.95" class="st">**</text>
<line x1="495.5" y1="347.32" x2="495.5" y2="400.57" stroke="#4a4a4a" stroke-width="1.15"/>
<line x1="495.5" y1="406.73" x2="495.5" y2="460.07" stroke="#4a4a4a" stroke-width="1.15"/>
<line x1="490.9" y1="459.5" x2="495.5" y2="459.5" stroke="#4a4a4a" stroke-width="1.15"/>
<text x="490" y="462.4" text-anchor="end" font-size="7.2" font-weight="bold" fill="#1a1a1a">0</text>
<line x1="490.9" y1="442.1" x2="495.5" y2="442.1" stroke="#4a4a4a" stroke-width="1.15"/>
<text x="490" y="445" text-anchor="end" font-size="7.2" font-weight="bold" fill="#1a1a1a">1</text>
<line x1="490.9" y1="424.7" x2="495.5" y2="424.7" stroke="#4a4a4a" stroke-width="1.15"/>
<text x="490" y="427.6" text-anchor="end" font-size="7.2" font-weight="bold" fill="#1a1a1a">2</text>
<line x1="490.9" y1="407.3" x2="495.5" y2="407.3" stroke="#4a4a4a" stroke-width="1.15"/>
<text x="490" y="410.2" text-anchor="end" font-size="7.2" font-weight="bold" fill="#1a1a1a">3</text>
<line x1="490.9" y1="392.6" x2="495.5" y2="392.6" stroke="#4a4a4a" stroke-width="1.15"/>
<text x="490" y="395.5" text-anchor="end" font-size="7.2" font-weight="bold" fill="#1a1a1a">6</text>
<line x1="490.9" y1="377.7" x2="495.5" y2="377.7" stroke="#4a4a4a" stroke-width="1.15"/>
<text x="490" y="380.6" text-anchor="end" font-size="7.2" font-weight="bold" fill="#1a1a1a">12</text>
<line x1="490.9" y1="362.8" x2="495.5" y2="362.8" stroke="#4a4a4a" stroke-width="1.15"/>
<text x="490" y="365.7" text-anchor="end" font-size="7.2" font-weight="bold" fill="#1a1a1a">18</text>
<line x1="490.9" y1="347.9" x2="495.5" y2="347.9" stroke="#4a4a4a" stroke-width="1.15"/>
<text x="490" y="350.8" text-anchor="end" font-size="7.2" font-weight="bold" fill="#1a1a1a">24</text>
<text x="470.6" y="400.2" text-anchor="middle" font-size="8.2" font-weight="bold" fill="#1a1a1a" transform="rotate(-90 470.6 400.2)">Relative exepression levels</text>
<text x="479.8" y="400" text-anchor="middle" font-size="8.2" font-weight="bold" fill="#1a1a1a" transform="rotate(-90 479.8 400)" textLength="44.5" lengthAdjust="spacingAndGlyphs">of <tspan font-style="italic">Sm4CL1</tspan></text>
<rect x="499.9" y="347.4" width="10" height="3" fill="#d5d5d5"/>
<text x="515.9" y="351.1" text-anchor="start" font-size="6.6" fill="#1a1a1a" class="lg">N4R10</text>
<rect x="499.9" y="353.5" width="10" height="3" fill="#a2a2a6"/>
<text x="515.9" y="357.2" text-anchor="start" font-size="6.6" fill="#1a1a1a" class="lg">N4R11</text>
<rect x="499.9" y="359.7" width="10" height="3" fill="#808084"/>
<text x="515.9" y="363.4" text-anchor="start" font-size="6.6" fill="#1a1a1a" class="lg">N4R13</text>
<rect x="499.9" y="366" width="10" height="3" fill="#646466"/>
<text x="515.9" y="369.7" text-anchor="start" font-size="6.6" fill="#1a1a1a" class="lg">CK</text>
<rect x="499.9" y="371.9" width="10" height="3" fill="url(#k3)"/>
<text x="515.9" y="375.6" text-anchor="start" font-size="6.6" fill="#1a1a1a" class="lg">N4O3</text>
<rect x="499.9" y="378.3" width="10" height="3" fill="url(#h18)"/>
<text x="515.9" y="382" text-anchor="start" font-size="6.6" fill="#1a1a1a" class="lg">N4O18</text>
<rect x="499.9" y="384.5" width="10" height="3" fill="url(#k3)"/>
<text x="515.9" y="388.2" text-anchor="start" font-size="6.6" fill="#1a1a1a" class="lg">N4O19</text>
<line x1="504.5" y1="438.5" x2="504.5" y2="439.9" stroke="#d5d5d5" stroke-width="0.9"/>
<line x1="501.85" y1="438.5" x2="508.05" y2="438.5" stroke="#d5d5d5" stroke-width="0.9"/>
<rect x="500.1" y="439.9" width="9.7" height="19.6" fill="#d5d5d5"/>
<line x1="516.5" y1="443.5" x2="516.5" y2="443.4" stroke="#a2a2a6" stroke-width="0.9"/>
<line x1="513.85" y1="443.5" x2="520.05" y2="443.5" stroke="#a2a2a6" stroke-width="0.9"/>
<rect x="512.1" y="443.4" width="9.7" height="16.1" fill="#a2a2a6"/>
<line x1="528.5" y1="443.5" x2="528.5" y2="444.8" stroke="#808084" stroke-width="0.9"/>
<line x1="525.85" y1="443.5" x2="532.05" y2="443.5" stroke="#808084" stroke-width="0.9"/>
<rect x="524.1" y="444.8" width="9.7" height="14.7" fill="#808084"/>
<line x1="540.5" y1="439.5" x2="540.5" y2="442.1" stroke="#646466" stroke-width="0.9"/>
<line x1="537.85" y1="439.5" x2="544.05" y2="439.5" stroke="#646466" stroke-width="0.9"/>
<rect x="536.1" y="442.1" width="9.7" height="17.4" fill="#646466"/>
<line x1="552.5" y1="449.5" x2="552.5" y2="451.5" stroke="#8c8c8c" stroke-width="0.9"/>
<line x1="549.85" y1="449.5" x2="556.05" y2="449.5" stroke="#8c8c8c" stroke-width="0.9"/>
<rect x="548.1" y="451.5" width="9.7" height="8" fill="url(#h3)"/>
<line x1="564.5" y1="448.5" x2="564.5" y2="449.8" stroke="#8c8c8c" stroke-width="0.9"/>
<line x1="561.85" y1="448.5" x2="568.05" y2="448.5" stroke="#8c8c8c" stroke-width="0.9"/>
<rect x="560.1" y="449.8" width="9.7" height="9.7" fill="url(#h18)"/>
<line x1="576.5" y1="449.5" x2="576.5" y2="450.7" stroke="#8c8c8c" stroke-width="0.9"/>
<line x1="573.85" y1="449.5" x2="580.05" y2="449.5" stroke="#8c8c8c" stroke-width="0.9"/>
<rect x="572.1" y="450.7" width="9.7" height="8.8" fill="url(#h19)"/>
<line x1="540.95" y1="459.5" x2="540.95" y2="463.5" stroke="#4a4a4a" stroke-width="1.15"/>
<text x="540.95" y="471.1" text-anchor="middle" font-size="7.2" font-weight="bold" fill="#1a1a1a">-SA</text>
<line x1="598.5" y1="380.5" x2="598.5" y2="383.5" stroke="#d5d5d5" stroke-width="0.9"/>
<line x1="595.85" y1="380.5" x2="602.05" y2="380.5" stroke="#d5d5d5" stroke-width="0.9"/>
<rect x="594.1" y="407.6" width="9.7" height="51.9" fill="#d5d5d5"/>
<rect x="594.1" y="383.5" width="9.7" height="16.5" fill="#d5d5d5"/>
<line x1="610.5" y1="377.5" x2="610.5" y2="378.3" stroke="#a2a2a6" stroke-width="0.9"/>
<line x1="607.85" y1="377.5" x2="614.05" y2="377.5" stroke="#a2a2a6" stroke-width="0.9"/>
<rect x="606.1" y="407.6" width="9.7" height="51.9" fill="#a2a2a6"/>
<rect x="606.1" y="378.3" width="9.7" height="21.7" fill="#a2a2a6"/>
<line x1="622.5" y1="360.5" x2="622.5" y2="368" stroke="#808084" stroke-width="0.9"/>
<line x1="619.85" y1="360.5" x2="626.05" y2="360.5" stroke="#808084" stroke-width="0.9"/>
<rect x="618.1" y="407.6" width="9.7" height="51.9" fill="#808084"/>
<rect x="618.1" y="368" width="9.7" height="32" fill="#808084"/>
<line x1="634.5" y1="386.5" x2="634.5" y2="391.8" stroke="#646466" stroke-width="0.9"/>
<line x1="631.85" y1="386.5" x2="638.05" y2="386.5" stroke="#646466" stroke-width="0.9"/>
<rect x="630.1" y="407.6" width="9.7" height="51.9" fill="#646466"/>
<rect x="630.1" y="391.8" width="9.7" height="8.2" fill="#646466"/>
<line x1="646.5" y1="409.5" x2="646.5" y2="434.8" stroke="#8c8c8c" stroke-width="0.9"/>
<line x1="643.85" y1="409.5" x2="650.05" y2="409.5" stroke="#8c8c8c" stroke-width="0.9"/>
<rect x="642.1" y="434.8" width="9.7" height="24.7" fill="url(#h3)"/>
<line x1="658.5" y1="444.5" x2="658.5" y2="447.1" stroke="#8c8c8c" stroke-width="0.9"/>
<line x1="655.85" y1="444.5" x2="662.05" y2="444.5" stroke="#8c8c8c" stroke-width="0.9"/>
<rect x="654.1" y="447.1" width="9.7" height="12.4" fill="url(#h18)"/>
<rect x="666.1" y="407.6" width="9.7" height="51.9" fill="url(#h19)"/>
<rect x="666.1" y="397.5" width="9.7" height="2.5" fill="url(#h19)"/>
<line x1="634.95" y1="459.5" x2="634.95" y2="463.5" stroke="#4a4a4a" stroke-width="1.15"/>
<text x="634.95" y="471.1" text-anchor="middle" font-size="7.2" font-weight="bold" fill="#1a1a1a">+SA</text>
<line x1="495" y1="459.5" x2="682" y2="459.5" stroke="#4a4a4a" stroke-width="1.15"/>
<line x1="492.9" y1="397.8" x2="498.1" y2="402.8" stroke="#333" stroke-width="1.15"/>
<line x1="492.9" y1="404.6" x2="498.1" y2="409.6" stroke="#333" stroke-width="1.15"/>
<text x="529.65" y="439.01" text-anchor="middle" font-size="6.4" font-weight="bold" fill="#222" letter-spacing="0.95" class="st">*</text>
<text x="599.35" y="375.91" text-anchor="middle" font-size="6.4" font-weight="bold" fill="#222" letter-spacing="0.95" class="st">*</text>
<text x="611.35" y="373.01" text-anchor="middle" font-size="6.4" font-weight="bold" fill="#222" letter-spacing="0.95" class="st">**</text>
<text x="623.35" y="356.31" text-anchor="middle" font-size="6.4" font-weight="bold" fill="#222" letter-spacing="0.95" class="st">**</text>
<text x="647.35" y="405.41" text-anchor="middle" font-size="6.4" font-weight="bold" fill="#222" letter-spacing="0.95" class="st">*</text>
<text x="659.35" y="440.21" text-anchor="middle" font-size="6.4" font-weight="bold" fill="#222" letter-spacing="0.95" class="st">**</text>
<text x="671.35" y="392.61" text-anchor="middle" font-size="6.4" font-weight="bold" fill="#222" letter-spacing="0.95" class="st">*</text>
<line x1="553.2" y1="445.3" x2="577.2" y2="445.3" stroke="#777" stroke-width="1.4"/>
<text x="565.75" y="440.21" text-anchor="middle" font-size="6.4" font-weight="bold" fill="#222" letter-spacing="0.95" class="st">**</text>
<line x1="39.7" y1="485.73" x2="39.7" y2="539.08" stroke="#4a4a4a" stroke-width="1.15"/>
<line x1="39.7" y1="545.12" x2="39.7" y2="598.08" stroke="#4a4a4a" stroke-width="1.15"/>
<line x1="35.1" y1="597.5" x2="39.7" y2="597.5" stroke="#4a4a4a" stroke-width="1.15"/>
<text x="34.2" y="600.4" text-anchor="end" font-size="7.2" font-weight="bold" fill="#1a1a1a">0</text>
<line x1="35.1" y1="576.05" x2="39.7" y2="576.05" stroke="#4a4a4a" stroke-width="1.15"/>
<text x="34.2" y="578.95" text-anchor="end" font-size="7.2" font-weight="bold" fill="#1a1a1a">1</text>
<line x1="35.1" y1="554.6" x2="39.7" y2="554.6" stroke="#4a4a4a" stroke-width="1.15"/>
<text x="34.2" y="557.5" text-anchor="end" font-size="7.2" font-weight="bold" fill="#1a1a1a">2</text>
<line x1="35.1" y1="528.3" x2="39.7" y2="528.3" stroke="#4a4a4a" stroke-width="1.15"/>
<text x="34.2" y="531.2" text-anchor="end" font-size="7.2" font-weight="bold" fill="#1a1a1a">5</text>
<line x1="35.1" y1="507.3" x2="39.7" y2="507.3" stroke="#4a4a4a" stroke-width="1.15"/>
<text x="34.2" y="510.2" text-anchor="end" font-size="7.2" font-weight="bold" fill="#1a1a1a">10</text>
<line x1="35.1" y1="486.3" x2="39.7" y2="486.3" stroke="#4a4a4a" stroke-width="1.15"/>
<text x="34.2" y="489.2" text-anchor="end" font-size="7.2" font-weight="bold" fill="#1a1a1a">15</text>
<text x="13.2" y="537.4" text-anchor="middle" font-size="8.2" font-weight="bold" fill="#1a1a1a" transform="rotate(-90 13.2 537.4)">Relative exepression levels</text>
<text x="22.8" y="541.4" text-anchor="middle" font-size="8.2" font-weight="bold" fill="#1a1a1a" transform="rotate(-90 22.8 541.4)" textLength="52" lengthAdjust="spacingAndGlyphs">of <tspan font-style="italic">SmHPPR1</tspan></text>
<rect x="43.8" y="486.3" width="10" height="3" fill="#d5d5d5"/>
<text x="59.5" y="490" text-anchor="start" font-size="6.6" fill="#1a1a1a" class="lg">N4R10</text>
<rect x="43.8" y="492.4" width="10" height="3" fill="#a2a2a6"/>
<text x="59.5" y="496.1" text-anchor="start" font-size="6.6" fill="#1a1a1a" class="lg">N4R11</text>
<rect x="43.8" y="498.5" width="10" height="3" fill="#808084"/>
<text x="59.5" y="502.2" text-anchor="start" font-size="6.6" fill="#1a1a1a" class="lg">N4R13</text>
<rect x="43.8" y="504.7" width="10" height="3" fill="#646466"/>
<text x="59.5" y="508.4" text-anchor="start" font-size="6.6" fill="#1a1a1a" class="lg">CK</text>
<rect x="43.8" y="510.8" width="10" height="3" fill="url(#k3)"/>
<text x="59.5" y="514.5" text-anchor="start" font-size="6.6" fill="#1a1a1a" class="lg">N4O3</text>
<rect x="43.8" y="517" width="10" height="3" fill="url(#h18)"/>
<text x="59.5" y="520.7" text-anchor="start" font-size="6.6" fill="#1a1a1a" class="lg">N4O18</text>
<rect x="43.8" y="523.2" width="10" height="3" fill="url(#k3)"/>
<text x="59.5" y="526.9" text-anchor="start" font-size="6.6" fill="#1a1a1a" class="lg">N4O19</text>
<line x1="50.5" y1="551.5" x2="50.5" y2="552.6" stroke="#d5d5d5" stroke-width="0.9"/>
<line x1="47.05" y1="551.5" x2="53.25" y2="551.5" stroke="#d5d5d5" stroke-width="0.9"/>
<rect x="45.3" y="552.6" width="9.7" height="44.9" fill="#d5d5d5"/>
<line x1="62.5" y1="558.5" x2="62.5" y2="561.6" stroke="#a2a2a6" stroke-width="0.9"/>
<line x1="59.05" y1="558.5" x2="65.25" y2="558.5" stroke="#a2a2a6" stroke-width="0.9"/>
<rect x="57.3" y="561.6" width="9.7" height="35.9" fill="#a2a2a6"/>
<line x1="74.5" y1="558.5" x2="74.5" y2="560" stroke="#808084" stroke-width="0.9"/>
<line x1="71.05" y1="558.5" x2="77.25" y2="558.5" stroke="#808084" stroke-width="0.9"/>
<rect x="69.3" y="560" width="9.7" height="37.5" fill="#808084"/>
<line x1="86.5" y1="575.5" x2="86.5" y2="576.2" stroke="#646466" stroke-width="0.9"/>
<line x1="83.05" y1="575.5" x2="89.25" y2="575.5" stroke="#646466" stroke-width="0.9"/>
<rect x="81.3" y="576.2" width="9.7" height="21.3" fill="#646466"/>
<line x1="98.5" y1="578.5" x2="98.5" y2="580.3" stroke="#8c8c8c" stroke-width="0.9"/>
<line x1="95.05" y1="578.5" x2="101.25" y2="578.5" stroke="#8c8c8c" stroke-width="0.9"/>
<rect x="93.3" y="580.3" width="9.7" height="17.2" fill="url(#h3)"/>
<line x1="110.5" y1="575.5" x2="110.5" y2="577.3" stroke="#8c8c8c" stroke-width="0.9"/>
<line x1="107.05" y1="575.5" x2="113.25" y2="575.5" stroke="#8c8c8c" stroke-width="0.9"/>
<rect x="105.3" y="577.3" width="9.7" height="20.2" fill="url(#h18)"/>
<line x1="122.5" y1="573.5" x2="122.5" y2="576.6" stroke="#8c8c8c" stroke-width="0.9"/>
<line x1="119.05" y1="573.5" x2="125.25" y2="573.5" stroke="#8c8c8c" stroke-width="0.9"/>
<rect x="117.3" y="576.6" width="9.7" height="20.9" fill="url(#h19)"/>
<line x1="86.15" y1="597.5" x2="86.15" y2="601.5" stroke="#4a4a4a" stroke-width="1.15"/>
<text x="86.15" y="610.3" text-anchor="middle" font-size="7.2" font-weight="bold" fill="#1a1a1a">-SA</text>
<line x1="144.5" y1="502.5" x2="144.5" y2="510.4" stroke="#d5d5d5" stroke-width="0.9"/>
<line x1="141.05" y1="502.5" x2="147.25" y2="502.5" stroke="#d5d5d5" stroke-width="0.9"/>
<rect x="139.3" y="545.9" width="9.7" height="51.6" fill="#d5d5d5"/>
<rect x="139.3" y="510.4" width="9.7" height="28.1" fill="#d5d5d5"/>
<line x1="156.5" y1="523.5" x2="156.5" y2="528.4" stroke="#a2a2a6" stroke-width="0.9"/>
<line x1="153.05" y1="523.5" x2="159.25" y2="523.5" stroke="#a2a2a6" stroke-width="0.9"/>
<rect x="151.3" y="545.9" width="9.7" height="51.6" fill="#a2a2a6"/>
<rect x="151.3" y="528.4" width="9.7" height="10.1" fill="#a2a2a6"/>
<line x1="168.5" y1="511.5" x2="168.5" y2="516.2" stroke="#808084" stroke-width="0.9"/>
<line x1="165.05" y1="511.5" x2="171.25" y2="511.5" stroke="#808084" stroke-width="0.9"/>
<rect x="163.3" y="545.9" width="9.7" height="51.6" fill="#808084"/>
<rect x="163.3" y="516.2" width="9.7" height="22.3" fill="#808084"/>
<line x1="180.5" y1="529.5" x2="180.5" y2="536.9" stroke="#646466" stroke-width="0.9"/>
<line x1="177.05" y1="529.5" x2="183.25" y2="529.5" stroke="#646466" stroke-width="0.9"/>
<rect x="175.3" y="545.9" width="9.7" height="51.6" fill="#646466"/>
<rect x="175.3" y="536.9" width="9.7" height="1.6" fill="#646466"/>
<line x1="192.5" y1="573.5" x2="192.5" y2="580.8" stroke="#8c8c8c" stroke-width="0.9"/>
<line x1="189.05" y1="573.5" x2="195.25" y2="573.5" stroke="#8c8c8c" stroke-width="0.9"/>
<rect x="187.3" y="580.8" width="9.7" height="16.7" fill="url(#h3)"/>
<line x1="204.5" y1="577.5" x2="204.5" y2="578.5" stroke="#8c8c8c" stroke-width="0.9"/>
<line x1="201.05" y1="577.5" x2="207.25" y2="577.5" stroke="#8c8c8c" stroke-width="0.9"/>
<rect x="199.3" y="578.5" width="9.7" height="19" fill="url(#h18)"/>
<line x1="216.5" y1="563.5" x2="216.5" y2="567.4" stroke="#8c8c8c" stroke-width="0.9"/>
<line x1="213.05" y1="563.5" x2="219.25" y2="563.5" stroke="#8c8c8c" stroke-width="0.9"/>
<rect x="211.3" y="567.4" width="9.7" height="30.1" fill="url(#h19)"/>
<line x1="180.15" y1="597.5" x2="180.15" y2="601.5" stroke="#4a4a4a" stroke-width="1.15"/>
<text x="180.15" y="610.3" text-anchor="middle" font-size="7.2" font-weight="bold" fill="#1a1a1a">+SA</text>
<line x1="39.2" y1="597.5" x2="226.5" y2="597.5" stroke="#4a4a4a" stroke-width="1.15"/>
<line x1="37.1" y1="536.3" x2="42.3" y2="541.3" stroke="#333" stroke-width="1.15"/>
<line x1="37.1" y1="543" x2="42.3" y2="548" stroke="#333" stroke-width="1.15"/>
<text x="98.35" y="574.51" text-anchor="middle" font-size="6.4" font-weight="bold" fill="#222" letter-spacing="0.95" class="st">**</text>
<text x="144.25" y="499.11" text-anchor="middle" font-size="6.4" font-weight="bold" fill="#222" letter-spacing="0.95" class="st">**</text>
<text x="168.25" y="506.91" text-anchor="middle" font-size="6.4" font-weight="bold" fill="#222" letter-spacing="0.95" class="st">**</text>
<text x="192.25" y="569.51" text-anchor="middle" font-size="6.4" font-weight="bold" fill="#222" letter-spacing="0.95" class="st">*</text>
<text x="204.25" y="573.41" text-anchor="middle" font-size="6.4" font-weight="bold" fill="#222" letter-spacing="0.95" class="st">*</text>
<line x1="49.6" y1="548.5" x2="74.3" y2="548.5" stroke="#3c3c3c" stroke-width="1"/>
<text x="62.25" y="543.41" text-anchor="middle" font-size="6.4" font-weight="bold" fill="#222" letter-spacing="0.95" class="st">**</text>
<line x1="265.5" y1="485.73" x2="265.5" y2="598.08" stroke="#4a4a4a" stroke-width="1.15"/>
<line x1="260.9" y1="597.5" x2="265.5" y2="597.5" stroke="#4a4a4a" stroke-width="1.15"/>
<text x="260" y="600.4" text-anchor="end" font-size="7.2" font-weight="bold" fill="#1a1a1a">0</text>
<line x1="260.9" y1="569.67" x2="265.5" y2="569.67" stroke="#4a4a4a" stroke-width="1.15"/>
<text x="260" y="572.57" text-anchor="end" font-size="7.2" font-weight="bold" fill="#1a1a1a">2</text>
<line x1="260.9" y1="541.85" x2="265.5" y2="541.85" stroke="#4a4a4a" stroke-width="1.15"/>
<text x="260" y="544.75" text-anchor="end" font-size="7.2" font-weight="bold" fill="#1a1a1a">4</text>
<line x1="260.9" y1="514.02" x2="265.5" y2="514.02" stroke="#4a4a4a" stroke-width="1.15"/>
<text x="260" y="516.92" text-anchor="end" font-size="7.2" font-weight="bold" fill="#1a1a1a">6</text>
<line x1="260.9" y1="486.2" x2="265.5" y2="486.2" stroke="#4a4a4a" stroke-width="1.15"/>
<text x="260" y="489.1" text-anchor="end" font-size="7.2" font-weight="bold" fill="#1a1a1a">8</text>
<text x="242.2" y="539.3" text-anchor="middle" font-size="8.2" font-weight="bold" fill="#1a1a1a" transform="rotate(-90 242.2 539.3)">Relative exepression levels</text>
<text x="251.8" y="541.4" text-anchor="middle" font-size="8.2" font-weight="bold" fill="#1a1a1a" transform="rotate(-90 251.8 541.4)" textLength="43.6" lengthAdjust="spacingAndGlyphs">of <tspan font-style="italic">SmRAS1</tspan></text>
<rect x="269.5" y="486.3" width="10" height="3" fill="#d5d5d5"/>
<text x="285.5" y="490" text-anchor="start" font-size="6.6" fill="#1a1a1a" class="lg">N4R10</text>
<rect x="269.5" y="492.4" width="10" height="3" fill="#a2a2a6"/>
<text x="285.5" y="496.1" text-anchor="start" font-size="6.6" fill="#1a1a1a" class="lg">N4R11</text>
<rect x="269.5" y="498.5" width="10" height="3" fill="#808084"/>
<text x="285.5" y="502.2" text-anchor="start" font-size="6.6" fill="#1a1a1a" class="lg">N4R13</text>
<rect x="269.5" y="504.7" width="10" height="3" fill="#646466"/>
<text x="285.5" y="508.4" text-anchor="start" font-size="6.6" fill="#1a1a1a" class="lg">CK</text>
<rect x="269.5" y="510.8" width="10" height="3" fill="url(#k3)"/>
<text x="285.5" y="514.5" text-anchor="start" font-size="6.6" fill="#1a1a1a" class="lg">N4O3</text>
<rect x="269.5" y="517" width="10" height="3" fill="url(#h18)"/>
<text x="285.5" y="520.7" text-anchor="start" font-size="6.6" fill="#1a1a1a" class="lg">N4O18</text>
<rect x="269.5" y="523.2" width="10" height="3" fill="url(#k3)"/>
<text x="285.5" y="526.9" text-anchor="start" font-size="6.6" fill="#1a1a1a" class="lg">N4O19</text>
<line x1="275.5" y1="576.5" x2="275.5" y2="576.9" stroke="#d5d5d5" stroke-width="0.9"/>
<line x1="272.25" y1="576.5" x2="278.45" y2="576.5" stroke="#d5d5d5" stroke-width="0.9"/>
<rect x="270.5" y="576.9" width="9.7" height="20.6" fill="#d5d5d5"/>
<line x1="287.5" y1="583.5" x2="287.5" y2="583.5" stroke="#a2a2a6" stroke-width="0.9"/>
<line x1="284.25" y1="583.5" x2="290.45" y2="583.5" stroke="#a2a2a6" stroke-width="0.9"/>
<rect x="282.5" y="583.5" width="9.7" height="14" fill="#a2a2a6"/>
<line x1="299.5" y1="580.5" x2="299.5" y2="583.8" stroke="#808084" stroke-width="0.9"/>
<line x1="296.25" y1="580.5" x2="302.45" y2="580.5" stroke="#808084" stroke-width="0.9"/>
<rect x="294.5" y="583.8" width="9.7" height="13.7" fill="#808084"/>
<line x1="311.5" y1="582.5" x2="311.5" y2="583.8" stroke="#646466" stroke-width="0.9"/>
<line x1="308.25" y1="582.5" x2="314.45" y2="582.5" stroke="#646466" stroke-width="0.9"/>
<rect x="306.5" y="583.8" width="9.7" height="13.7" fill="#646466"/>
<line x1="323.5" y1="590.5" x2="323.5" y2="592.3" stroke="#8c8c8c" stroke-width="0.9"/>
<line x1="320.25" y1="590.5" x2="326.45" y2="590.5" stroke="#8c8c8c" stroke-width="0.9"/>
<rect x="318.5" y="592.3" width="9.7" height="5.2" fill="url(#h3)"/>
<line x1="335.5" y1="587.5" x2="335.5" y2="590.5" stroke="#8c8c8c" stroke-width="0.9"/>
<line x1="332.25" y1="587.5" x2="338.45" y2="587.5" stroke="#8c8c8c" stroke-width="0.9"/>
<rect x="330.5" y="590.5" width="9.7" height="7" fill="url(#h18)"/>
<line x1="347.5" y1="588.5" x2="347.5" y2="589.5" stroke="#8c8c8c" stroke-width="0.9"/>
<line x1="344.25" y1="588.5" x2="350.45" y2="588.5" stroke="#8c8c8c" stroke-width="0.9"/>
<rect x="342.5" y="589.5" width="9.7" height="8" fill="url(#h19)"/>
<line x1="311.35" y1="597.5" x2="311.35" y2="601.5" stroke="#4a4a4a" stroke-width="1.15"/>
<text x="311.35" y="610.3" text-anchor="middle" font-size="7.2" font-weight="bold" fill="#1a1a1a">-SA</text>
<line x1="369.5" y1="518.5" x2="369.5" y2="536.5" stroke="#d5d5d5" stroke-width="0.9"/>
<line x1="366.25" y1="518.5" x2="372.45" y2="518.5" stroke="#d5d5d5" stroke-width="0.9"/>
<rect x="364.5" y="536.5" width="9.7" height="61" fill="#d5d5d5"/>
<line x1="381.5" y1="520.5" x2="381.5" y2="531.2" stroke="#a2a2a6" stroke-width="0.9"/>
<line x1="378.25" y1="520.5" x2="384.45" y2="520.5" stroke="#a2a2a6" stroke-width="0.9"/>
<rect x="376.5" y="531.2" width="9.7" height="66.3" fill="#a2a2a6"/>
<line x1="393.5" y1="550.5" x2="393.5" y2="562.3" stroke="#808084" stroke-width="0.9"/>
<line x1="390.25" y1="550.5" x2="396.45" y2="550.5" stroke="#808084" stroke-width="0.9"/>
<rect x="388.5" y="562.3" width="9.7" height="35.2" fill="#808084"/>
<line x1="405.5" y1="578.5" x2="405.5" y2="582.4" stroke="#646466" stroke-width="0.9"/>
<line x1="402.25" y1="578.5" x2="408.45" y2="578.5" stroke="#646466" stroke-width="0.9"/>
<rect x="400.5" y="582.4" width="9.7" height="15.1" fill="#646466"/>
<line x1="417.5" y1="594.5" x2="417.5" y2="595.1" stroke="#8c8c8c" stroke-width="0.9"/>
<line x1="414.25" y1="594.5" x2="420.45" y2="594.5" stroke="#8c8c8c" stroke-width="0.9"/>
<rect x="412.5" y="595.1" width="9.7" height="2.4" fill="url(#h3)"/>
<line x1="429.5" y1="587.5" x2="429.5" y2="590" stroke="#8c8c8c" stroke-width="0.9"/>
<line x1="426.25" y1="587.5" x2="432.45" y2="587.5" stroke="#8c8c8c" stroke-width="0.9"/>
<rect x="424.5" y="590" width="9.7" height="7.5" fill="url(#h18)"/>
<line x1="441.5" y1="590.5" x2="441.5" y2="592.3" stroke="#8c8c8c" stroke-width="0.9"/>
<line x1="438.25" y1="590.5" x2="444.45" y2="590.5" stroke="#8c8c8c" stroke-width="0.9"/>
<rect x="436.5" y="592.3" width="9.7" height="5.2" fill="url(#h19)"/>
<line x1="405.35" y1="597.5" x2="405.35" y2="601.5" stroke="#4a4a4a" stroke-width="1.15"/>
<text x="405.35" y="610.3" text-anchor="middle" font-size="7.2" font-weight="bold" fill="#1a1a1a">+SA</text>
<line x1="265" y1="597.5" x2="452.2" y2="597.5" stroke="#4a4a4a" stroke-width="1.15"/>
<text x="369.75" y="514.11" text-anchor="middle" font-size="6.4" font-weight="bold" fill="#222" letter-spacing="0.95" class="st">*</text>
<text x="381.75" y="516.21" text-anchor="middle" font-size="6.4" font-weight="bold" fill="#222" letter-spacing="0.95" class="st">**</text>
<text x="393.75" y="546.41" text-anchor="middle" font-size="6.4" font-weight="bold" fill="#222" letter-spacing="0.95" class="st">*</text>
<line x1="323.1" y1="584.7" x2="347.7" y2="584.7" stroke="#777" stroke-width="1.3"/>
<text x="336.15" y="580.31" text-anchor="middle" font-size="6.4" font-weight="bold" fill="#222" letter-spacing="0.95" class="st">**</text>
<line x1="417.4" y1="584.2" x2="441.6" y2="584.2" stroke="#3c3c3c" stroke-width="1"/>
<text x="429.95" y="579.61" text-anchor="middle" font-size="6.4" font-weight="bold" fill="#222" letter-spacing="0.95" class="st">**</text>
<line x1="495" y1="485.73" x2="495" y2="598.08" stroke="#4a4a4a" stroke-width="1.15"/>
<line x1="490.4" y1="597.5" x2="495" y2="597.5" stroke="#4a4a4a" stroke-width="1.15"/>
<text x="489.5" y="600.4" text-anchor="end" font-size="7.2" font-weight="bold" fill="#1a1a1a">0</text>
<line x1="490.4" y1="575.24" x2="495" y2="575.24" stroke="#4a4a4a" stroke-width="1.15"/>
<text x="489.5" y="578.14" text-anchor="end" font-size="7.2" font-weight="bold" fill="#1a1a1a">2</text>
<line x1="490.4" y1="552.98" x2="495" y2="552.98" stroke="#4a4a4a" stroke-width="1.15"/>
<text x="489.5" y="555.88" text-anchor="end" font-size="7.2" font-weight="bold" fill="#1a1a1a">4</text>
<line x1="490.4" y1="530.72" x2="495" y2="530.72" stroke="#4a4a4a" stroke-width="1.15"/>
<text x="489.5" y="533.62" text-anchor="end" font-size="7.2" font-weight="bold" fill="#1a1a1a">6</text>
<line x1="490.4" y1="508.46" x2="495" y2="508.46" stroke="#4a4a4a" stroke-width="1.15"/>
<text x="489.5" y="511.36" text-anchor="end" font-size="7.2" font-weight="bold" fill="#1a1a1a">8</text>
<line x1="490.4" y1="486.2" x2="495" y2="486.2" stroke="#4a4a4a" stroke-width="1.15"/>
<text x="489.5" y="489.1" text-anchor="end" font-size="7.2" font-weight="bold" fill="#1a1a1a">10</text>
<text x="469.6" y="540" text-anchor="middle" font-size="8.2" font-weight="bold" fill="#1a1a1a" transform="rotate(-90 469.6 540)">Relative exepression levels</text>
<text x="479.8" y="540.5" text-anchor="middle" font-size="8.2" font-weight="bold" fill="#1a1a1a" transform="rotate(-90 479.8 540.5)" textLength="61.3" lengthAdjust="spacingAndGlyphs">of <tspan font-style="italic">SmCYP98A14</tspan></text>
<rect x="498.8" y="486.3" width="10" height="3" fill="#d5d5d5"/>
<text x="514.5" y="490" text-anchor="start" font-size="6.6" fill="#1a1a1a" class="lg">N4R10</text>
<rect x="498.8" y="492.4" width="10" height="3" fill="#a2a2a6"/>
<text x="514.5" y="496.1" text-anchor="start" font-size="6.6" fill="#1a1a1a" class="lg">N4R11</text>
<rect x="498.8" y="498.5" width="10" height="3" fill="#808084"/>
<text x="514.5" y="502.2" text-anchor="start" font-size="6.6" fill="#1a1a1a" class="lg">N4R13</text>
<rect x="498.8" y="504.7" width="10" height="3" fill="#646466"/>
<text x="514.5" y="508.4" text-anchor="start" font-size="6.6" fill="#1a1a1a" class="lg">CK</text>
<rect x="498.8" y="510.8" width="10" height="3" fill="url(#k3)"/>
<text x="514.5" y="514.5" text-anchor="start" font-size="6.6" fill="#1a1a1a" class="lg">N4O3</text>
<rect x="498.8" y="517" width="10" height="3" fill="url(#h18)"/>
<text x="514.5" y="520.7" text-anchor="start" font-size="6.6" fill="#1a1a1a" class="lg">N4O18</text>
<rect x="498.8" y="523.2" width="10" height="3" fill="url(#k3)"/>
<text x="514.5" y="526.9" text-anchor="start" font-size="6.6" fill="#1a1a1a" class="lg">N4O19</text>
<line x1="504.5" y1="583.5" x2="504.5" y2="583.8" stroke="#d5d5d5" stroke-width="0.9"/>
<line x1="501.85" y1="583.5" x2="508.05" y2="583.5" stroke="#d5d5d5" stroke-width="0.9"/>
<rect x="500.1" y="583.8" width="9.7" height="13.7" fill="#d5d5d5"/>
<line x1="516.5" y1="587.5" x2="516.5" y2="587.7" stroke="#a2a2a6" stroke-width="0.9"/>
<line x1="513.8" y1="587.5" x2="520" y2="587.5" stroke="#a2a2a6" stroke-width="0.9"/>
<rect x="512.05" y="587.7" width="9.7" height="9.8" fill="#a2a2a6"/>
<line x1="528.5" y1="584.5" x2="528.5" y2="585.4" stroke="#808084" stroke-width="0.9"/>
<line x1="525.75" y1="584.5" x2="531.95" y2="584.5" stroke="#808084" stroke-width="0.9"/>
<rect x="524" y="585.4" width="9.7" height="12.1" fill="#808084"/>
<line x1="540.5" y1="586.5" x2="540.5" y2="586.5" stroke="#646466" stroke-width="0.9"/>
<line x1="537.7" y1="586.5" x2="543.9" y2="586.5" stroke="#646466" stroke-width="0.9"/>
<rect x="535.95" y="586.5" width="9.7" height="11" fill="#646466"/>
<line x1="552.5" y1="589.5" x2="552.5" y2="591.6" stroke="#8c8c8c" stroke-width="0.9"/>
<line x1="549.65" y1="589.5" x2="555.85" y2="589.5" stroke="#8c8c8c" stroke-width="0.9"/>
<rect x="547.9" y="591.6" width="9.7" height="5.9" fill="url(#h3)"/>
<line x1="564.5" y1="588.5" x2="564.5" y2="590" stroke="#8c8c8c" stroke-width="0.9"/>
<line x1="561.6" y1="588.5" x2="567.8" y2="588.5" stroke="#8c8c8c" stroke-width="0.9"/>
<rect x="559.85" y="590" width="9.7" height="7.5" fill="url(#h18)"/>
<line x1="576.5" y1="590.5" x2="576.5" y2="591.6" stroke="#8c8c8c" stroke-width="0.9"/>
<line x1="573.55" y1="590.5" x2="579.75" y2="590.5" stroke="#8c8c8c" stroke-width="0.9"/>
<rect x="571.8" y="591.6" width="9.7" height="5.9" fill="url(#h19)"/>
<line x1="540.8" y1="597.5" x2="540.8" y2="601.5" stroke="#4a4a4a" stroke-width="1.15"/>
<text x="540.8" y="610.3" text-anchor="middle" font-size="7.2" font-weight="bold" fill="#1a1a1a">-SA</text>
<line x1="599.5" y1="539.5" x2="599.5" y2="548.5" stroke="#d5d5d5" stroke-width="0.9"/>
<line x1="595.95" y1="539.5" x2="602.15" y2="539.5" stroke="#d5d5d5" stroke-width="0.9"/>
<rect x="594.2" y="548.5" width="9.7" height="49" fill="#d5d5d5"/>
<line x1="611.5" y1="570.5" x2="611.5" y2="578.9" stroke="#a2a2a6" stroke-width="0.9"/>
<line x1="607.9" y1="570.5" x2="614.1" y2="570.5" stroke="#a2a2a6" stroke-width="0.9"/>
<rect x="606.15" y="578.9" width="9.7" height="18.6" fill="#a2a2a6"/>
<line x1="622.5" y1="569.5" x2="622.5" y2="573.9" stroke="#808084" stroke-width="0.9"/>
<line x1="619.85" y1="569.5" x2="626.05" y2="569.5" stroke="#808084" stroke-width="0.9"/>
<rect x="618.1" y="573.9" width="9.7" height="23.6" fill="#808084"/>
<line x1="634.5" y1="503.5" x2="634.5" y2="530" stroke="#646466" stroke-width="0.9"/>
<line x1="631.8" y1="503.5" x2="638" y2="503.5" stroke="#646466" stroke-width="0.9"/>
<rect x="630.05" y="530" width="9.7" height="67.5" fill="#646466"/>
<line x1="646.5" y1="576.5" x2="646.5" y2="584.9" stroke="#8c8c8c" stroke-width="0.9"/>
<line x1="643.75" y1="576.5" x2="649.95" y2="576.5" stroke="#8c8c8c" stroke-width="0.9"/>
<rect x="642" y="584.9" width="9.7" height="12.6" fill="url(#h3)"/>
<line x1="658.5" y1="589.5" x2="658.5" y2="591.2" stroke="#8c8c8c" stroke-width="0.9"/>
<line x1="655.7" y1="589.5" x2="661.9" y2="589.5" stroke="#8c8c8c" stroke-width="0.9"/>
<rect x="653.95" y="591.2" width="9.7" height="6.3" fill="url(#h18)"/>
<line x1="670.5" y1="573.5" x2="670.5" y2="576.2" stroke="#8c8c8c" stroke-width="0.9"/>
<line x1="667.65" y1="573.5" x2="673.85" y2="573.5" stroke="#8c8c8c" stroke-width="0.9"/>
<rect x="665.9" y="576.2" width="9.7" height="21.3" fill="url(#h19)"/>
<line x1="634.9" y1="597.5" x2="634.9" y2="601.5" stroke="#4a4a4a" stroke-width="1.15"/>
<text x="634.9" y="610.3" text-anchor="middle" font-size="7.2" font-weight="bold" fill="#1a1a1a">+SA</text>
<line x1="494.5" y1="597.5" x2="681.2" y2="597.5" stroke="#4a4a4a" stroke-width="1.15"/>
<text x="505.25" y="579.61" text-anchor="middle" font-size="6.4" font-weight="bold" fill="#222" letter-spacing="0.95" class="st">**</text>
<text x="517.25" y="581.91" text-anchor="middle" font-size="6.4" font-weight="bold" fill="#222" letter-spacing="0.95" class="st">*</text>
<text x="529.25" y="580.81" text-anchor="middle" font-size="6.4" font-weight="bold" fill="#222" letter-spacing="0.95" class="st">**</text>
<text x="611.35" y="566.01" text-anchor="middle" font-size="6.4" font-weight="bold" fill="#222" letter-spacing="0.95" class="st">*</text>
<text x="623.25" y="565.31" text-anchor="middle" font-size="6.4" font-weight="bold" fill="#222" letter-spacing="0.95" class="st">**</text>
<line x1="553.1" y1="585.4" x2="576.8" y2="585.4" stroke="#3c3c3c" stroke-width="1"/>
<text x="565.65" y="580.31" text-anchor="middle" font-size="6.4" font-weight="bold" fill="#222" letter-spacing="0.95" class="st">**</text>
<line x1="646.5" y1="570.9" x2="670.8" y2="570.9" stroke="#3c3c3c" stroke-width="1"/>
<text x="659.55" y="566.01" text-anchor="middle" font-size="6.4" font-weight="bold" fill="#222" letter-spacing="0.95" class="st">**</text>
</svg></body></html>
